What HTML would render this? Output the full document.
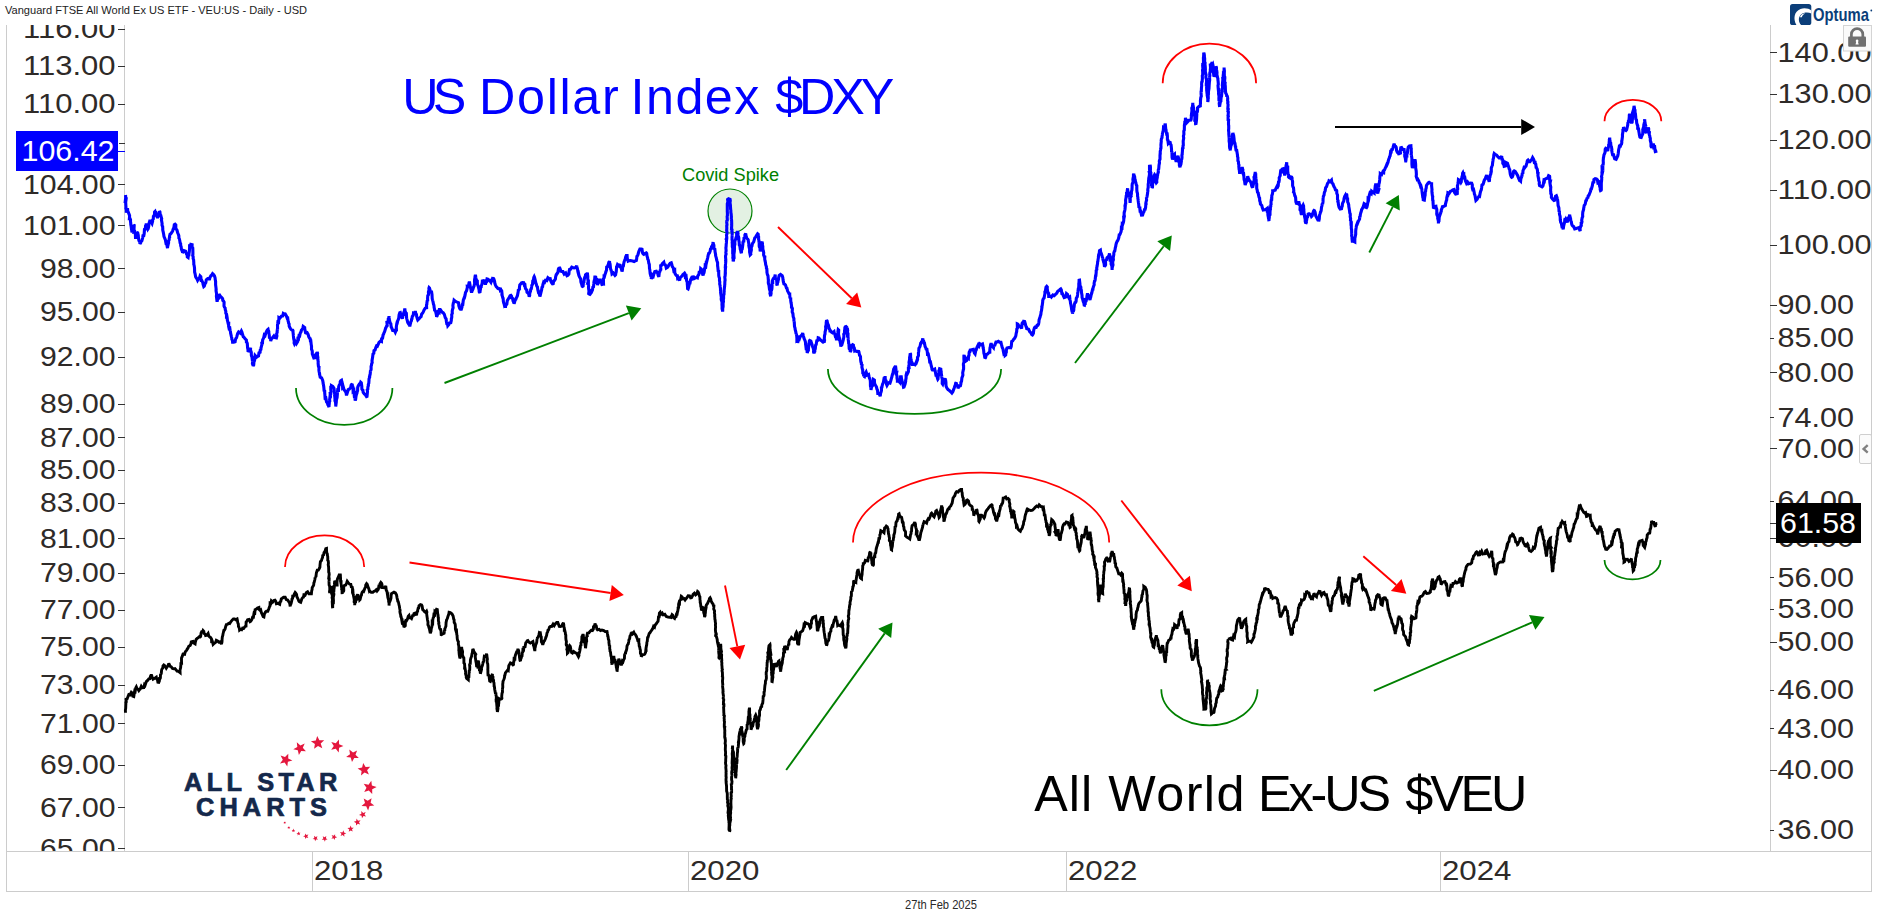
<!DOCTYPE html>
<html lang="en"><head><meta charset="utf-8"><title>US Dollar Index vs All World Ex-US</title>
<style>html,body{margin:0;padding:0;background:#fff}svg{display:block}text{font-family:"Liberation Sans",Arial,sans-serif}</style></head><body>
<svg width="1878" height="924" viewBox="0 0 1878 924">
<rect width="1878" height="924" fill="#fff"/>
<g stroke="#cccccc" stroke-width="1" fill="none" shape-rendering="crispEdges">
<path d="M6.5 25 V891.5 H1871.5 V25"/>
<path d="M6.5 851.5 H1871.5"/>
<path d="M124.5 25 V851"/>
<path d="M1770.5 25 V851"/>
<path d="M312.5 851.5 V891.5"/>
<path d="M688.5 851.5 V891.5"/>
<path d="M1066.5 851.5 V891.5"/>
<path d="M1440.5 851.5 V891.5"/>
</g>
<defs><clipPath id="cl"><rect x="7" y="25" width="1864" height="826"/></clipPath></defs>
<g clip-path="url(#cl)">
<g stroke="#333" stroke-width="1" shape-rendering="crispEdges">
<path d="M118 29.5 H125"/>
<path d="M118 66.5 H125"/>
<path d="M118 104.5 H125"/>
<path d="M118 184.5 H125"/>
<path d="M118 225.5 H125"/>
<path d="M118 268.5 H125"/>
<path d="M118 312.5 H125"/>
<path d="M118 357.5 H125"/>
<path d="M118 404.5 H125"/>
<path d="M118 437.5 H125"/>
<path d="M118 470.5 H125"/>
<path d="M118 503.5 H125"/>
<path d="M118 538.5 H125"/>
<path d="M118 573.5 H125"/>
<path d="M118 610.5 H125"/>
<path d="M118 647.5 H125"/>
<path d="M118 685.5 H125"/>
<path d="M118 723.5 H125"/>
<path d="M118 765.5 H125"/>
<path d="M118 807.5 H125"/>
<path d="M118 848.5 H125"/>
<path d="M119 143.5 H125"/>
</g>
<g fill="#2e2a28" font-size="28.0" text-anchor="end">
<text x="115.5" y="38.0" textLength="92.5" lengthAdjust="spacingAndGlyphs">116.00</text>
<text x="115.5" y="75.0" textLength="92.5" lengthAdjust="spacingAndGlyphs">113.00</text>
<text x="115.5" y="113.0" textLength="92.5" lengthAdjust="spacingAndGlyphs">110.00</text>
<text x="115.5" y="193.5" textLength="92.5" lengthAdjust="spacingAndGlyphs">104.00</text>
<text x="115.5" y="234.5" textLength="92.5" lengthAdjust="spacingAndGlyphs">101.00</text>
<text x="115.5" y="277.5" textLength="75.5" lengthAdjust="spacingAndGlyphs">98.00</text>
<text x="115.5" y="321.0" textLength="75.5" lengthAdjust="spacingAndGlyphs">95.00</text>
<text x="115.5" y="366.0" textLength="75.5" lengthAdjust="spacingAndGlyphs">92.00</text>
<text x="115.5" y="413.0" textLength="75.5" lengthAdjust="spacingAndGlyphs">89.00</text>
<text x="115.5" y="446.5" textLength="75.5" lengthAdjust="spacingAndGlyphs">87.00</text>
<text x="115.5" y="479.0" textLength="75.5" lengthAdjust="spacingAndGlyphs">85.00</text>
<text x="115.5" y="512.0" textLength="75.5" lengthAdjust="spacingAndGlyphs">83.00</text>
<text x="115.5" y="547.5" textLength="75.5" lengthAdjust="spacingAndGlyphs">81.00</text>
<text x="115.5" y="582.0" textLength="75.5" lengthAdjust="spacingAndGlyphs">79.00</text>
<text x="115.5" y="619.0" textLength="75.5" lengthAdjust="spacingAndGlyphs">77.00</text>
<text x="115.5" y="656.0" textLength="75.5" lengthAdjust="spacingAndGlyphs">75.00</text>
<text x="115.5" y="694.0" textLength="75.5" lengthAdjust="spacingAndGlyphs">73.00</text>
<text x="115.5" y="732.5" textLength="75.5" lengthAdjust="spacingAndGlyphs">71.00</text>
<text x="115.5" y="774.0" textLength="75.5" lengthAdjust="spacingAndGlyphs">69.00</text>
<text x="115.5" y="816.5" textLength="75.5" lengthAdjust="spacingAndGlyphs">67.00</text>
<text x="115.5" y="857.5" textLength="75.5" lengthAdjust="spacingAndGlyphs">65.00</text>
</g>
<g stroke="#333" stroke-width="1" shape-rendering="crispEdges">
<path d="M1770 52.5 H1777"/>
<path d="M1770 94.5 H1777"/>
<path d="M1770 140.5 H1777"/>
<path d="M1770 190.5 H1777"/>
<path d="M1770 245.5 H1777"/>
<path d="M1770 305.5 H1777"/>
<path d="M1770 338.5 H1774"/>
<path d="M1770 372.5 H1777"/>
<path d="M1770 417.5 H1774"/>
<path d="M1770 448.5 H1777"/>
<path d="M1770 501.5 H1774"/>
<path d="M1770 538.5 H1777"/>
<path d="M1770 577.5 H1774"/>
<path d="M1770 609.5 H1774"/>
<path d="M1770 642.5 H1777"/>
<path d="M1770 690.5 H1774"/>
<path d="M1770 728.5 H1774"/>
<path d="M1770 770.5 H1777"/>
<path d="M1770 830.5 H1774"/>
<path d="M1770 523.5 H1777"/>
</g>
<g fill="#2e2a28" font-size="28.0">
<text x="1777.5" y="61.5" textLength="94.0" lengthAdjust="spacingAndGlyphs">140.00</text>
<text x="1777.5" y="103.0" textLength="94.0" lengthAdjust="spacingAndGlyphs">130.00</text>
<text x="1777.5" y="149.0" textLength="94.0" lengthAdjust="spacingAndGlyphs">120.00</text>
<text x="1777.5" y="199.0" textLength="94.0" lengthAdjust="spacingAndGlyphs">110.00</text>
<text x="1777.5" y="254.0" textLength="94.0" lengthAdjust="spacingAndGlyphs">100.00</text>
<text x="1777.5" y="314.0" textLength="76.5" lengthAdjust="spacingAndGlyphs">90.00</text>
<text x="1777.5" y="347.0" textLength="76.5" lengthAdjust="spacingAndGlyphs">85.00</text>
<text x="1777.5" y="381.5" textLength="76.5" lengthAdjust="spacingAndGlyphs">80.00</text>
<text x="1777.5" y="426.5" textLength="76.5" lengthAdjust="spacingAndGlyphs">74.00</text>
<text x="1777.5" y="457.5" textLength="76.5" lengthAdjust="spacingAndGlyphs">70.00</text>
<text x="1777.5" y="510.0" textLength="76.5" lengthAdjust="spacingAndGlyphs">64.00</text>
<text x="1777.5" y="547.0" textLength="76.5" lengthAdjust="spacingAndGlyphs">60.00</text>
<text x="1777.5" y="586.5" textLength="76.5" lengthAdjust="spacingAndGlyphs">56.00</text>
<text x="1777.5" y="618.0" textLength="76.5" lengthAdjust="spacingAndGlyphs">53.00</text>
<text x="1777.5" y="651.0" textLength="76.5" lengthAdjust="spacingAndGlyphs">50.00</text>
<text x="1777.5" y="699.0" textLength="76.5" lengthAdjust="spacingAndGlyphs">46.00</text>
<text x="1777.5" y="737.5" textLength="76.5" lengthAdjust="spacingAndGlyphs">43.00</text>
<text x="1777.5" y="779.0" textLength="76.5" lengthAdjust="spacingAndGlyphs">40.00</text>
<text x="1777.5" y="839.0" textLength="76.5" lengthAdjust="spacingAndGlyphs">36.00</text>
</g>
</g>
<rect x="16" y="131" width="102" height="40" fill="#0000ff"/>
<path d="M118 151.5 H125" stroke="#0000ff" stroke-width="1" shape-rendering="crispEdges"/>
<text x="21.5" y="160.9" font-size="29.6" fill="#fff" textLength="93" lengthAdjust="spacingAndGlyphs">106.42</text>
<rect x="1776" y="503" width="85" height="40" fill="#000"/>
<text x="1780" y="533.2" font-size="29" fill="#fff" textLength="76" lengthAdjust="spacingAndGlyphs">61.58</text>
<text x="314.0" y="880.3" font-size="28.0" fill="#2e2a28" textLength="69.5" lengthAdjust="spacingAndGlyphs">2018</text>
<text x="690.0" y="880.3" font-size="28.0" fill="#2e2a28" textLength="69.5" lengthAdjust="spacingAndGlyphs">2020</text>
<text x="1068.0" y="880.3" font-size="28.0" fill="#2e2a28" textLength="69.5" lengthAdjust="spacingAndGlyphs">2022</text>
<text x="1442.0" y="880.3" font-size="28.0" fill="#2e2a28" textLength="69.5" lengthAdjust="spacingAndGlyphs">2024</text>
<text x="5" y="13.7" font-size="11.8" fill="#222" textLength="302" lengthAdjust="spacingAndGlyphs">Vanguard FTSE All World Ex US ETF - VEU:US - Daily - USD</text>
<text x="905" y="908.7" font-size="12.3" fill="#2a2a2a" textLength="72" lengthAdjust="spacingAndGlyphs">27th Feb 2025</text>
<path d="M296.0 388.0 A48.2 37.0 0 0 0 392.4 388.0" stroke="#008000" stroke-width="1.75" fill="none"/>
<path d="M827.9 369.0 A86.6 45.0 0 0 0 1001.1 369.0" stroke="#008000" stroke-width="1.75" fill="none"/>
<path d="M1161.3 689.3 A48.1 36.0 0 0 0 1257.5 689.3" stroke="#008000" stroke-width="1.75" fill="none"/>
<path d="M1604.5 560.0 A28.0 19.3 0 0 0 1660.5 560.0" stroke="#008000" stroke-width="1.75" fill="none"/>
<path d="M1162.7 83.3 A46.7 39.7 0 0 1 1256.1 83.3" stroke="#ff0000" stroke-width="1.75" fill="none"/>
<path d="M1604.5 121.3 A28.4 21.3 0 0 1 1661.3 121.3" stroke="#ff0000" stroke-width="1.75" fill="none"/>
<path d="M285.0 567.0 A39.6 31.5 0 0 1 364.2 567.0" stroke="#ff0000" stroke-width="1.75" fill="none"/>
<path d="M853.0 542.5 A128.1 69.8 0 0 1 1109.2 542.5" stroke="#ff0000" stroke-width="1.75" fill="none"/>
<circle cx="730" cy="211" r="22" fill="#008000" fill-opacity="0.11" stroke="#008000" stroke-width="1.2"/>
<path d="M444.5 383.0 L628.8 313.1" stroke="#008000" stroke-width="1.9"/><path d="M641.3 308.3 L631.6 320.5 L625.9 305.6 Z" fill="#008000"/>
<path d="M778.0 227.0 L851.7 298.2" stroke="#ff0000" stroke-width="1.9"/><path d="M861.3 307.5 L846.1 303.9 L857.2 292.4 Z" fill="#ff0000"/>
<path d="M1075.0 363.0 L1163.7 246.2" stroke="#008000" stroke-width="1.9"/><path d="M1171.8 235.5 L1170.1 251.0 L1157.3 241.3 Z" fill="#008000"/>
<path d="M1369.3 252.5 L1392.7 206.9" stroke="#008000" stroke-width="1.9"/><path d="M1398.8 195.0 L1399.8 210.6 L1385.6 203.3 Z" fill="#008000"/>
<path d="M1335.0 127.0 L1521.2 127.0" stroke="#000" stroke-width="1.9"/><path d="M1535.0 127.0 L1521.2 135.0 L1521.2 119.0 Z" fill="#000"/>
<path d="M409.5 562.5 L610.6 593.0" stroke="#ff0000" stroke-width="1.9"/><path d="M623.8 595.0 L609.4 600.9 L611.8 585.1 Z" fill="#ff0000"/>
<path d="M725.0 585.5 L737.3 646.4" stroke="#ff0000" stroke-width="1.9"/><path d="M740.0 659.5 L729.5 648.0 L745.2 644.8 Z" fill="#ff0000"/>
<path d="M786.2 770.0 L884.7 633.4" stroke="#008000" stroke-width="1.9"/><path d="M892.5 622.5 L891.2 638.0 L878.2 628.7 Z" fill="#008000"/>
<path d="M1121.3 500.5 L1183.6 580.7" stroke="#ff0000" stroke-width="1.9"/><path d="M1191.8 591.3 L1177.3 585.6 L1189.9 575.8 Z" fill="#ff0000"/>
<path d="M1363.3 556.3 L1396.2 585.0" stroke="#ff0000" stroke-width="1.9"/><path d="M1406.3 593.8 L1390.9 591.0 L1401.5 579.0 Z" fill="#ff0000"/>
<path d="M1373.8 690.8 L1532.2 622.3" stroke="#008000" stroke-width="1.9"/><path d="M1544.5 617.0 L1535.4 629.7 L1529.0 615.0 Z" fill="#008000"/>
<path d="M125.5 195.0 L125.6 195.8 L125.7 197.8 L125.4 200.2 L126.0 199.9 L125.7 202.3 L125.9 206.1 L126.0 207.2 L125.8 208.2 L126.3 209.8 L126.3 211.0 L126.3 212.7 L126.8 210.0 L127.0 210.3 L127.5 208.2 L127.8 211.3 L128.4 212.3 L128.8 213.7 L129.1 214.2 L129.6 215.8 L129.4 218.5 L130.0 218.4 L130.5 219.5 L130.5 221.7 L130.7 222.8 L130.8 224.6 L131.2 226.7 L131.5 229.2 L131.8 230.8 L131.9 232.5 L132.0 232.1 L132.6 232.1 L132.8 230.8 L132.9 228.7 L133.5 227.5 L133.8 224.8 L134.2 225.3 L134.0 229.6 L134.4 230.6 L134.5 230.3 L135.1 233.7 L135.1 233.1 L135.4 234.6 L135.5 237.4 L136.3 237.4 L136.8 235.1 L136.8 233.2 L137.5 232.7 L137.7 232.8 L138.3 235.5 L138.3 236.3 L138.8 240.1 L139.5 242.0 L139.6 241.8 L140.0 243.8 L140.7 242.8 L141.3 241.1 L141.9 240.8 L142.7 237.8 L143.0 235.7 L143.8 235.6 L144.2 233.5 L144.4 230.4 L144.6 230.5 L145.3 229.0 L145.6 225.7 L146.0 225.3 L146.3 223.6 L147.0 226.1 L147.2 225.7 L148.0 229.0 L148.2 228.7 L148.8 225.7 L148.9 223.9 L149.3 222.4 L149.6 221.8 L150.0 219.9 L150.4 222.1 L151.5 222.8 L152.0 223.6 L152.6 221.4 L152.6 219.9 L153.3 218.9 L153.4 216.3 L154.1 215.5 L154.5 214.2 L154.6 211.9 L155.0 211.5 L155.6 214.0 L156.1 213.6 L156.7 216.1 L157.5 217.9 L157.8 217.0 L158.7 213.7 L159.2 213.3 L159.5 211.1 L159.9 211.7 L160.3 215.3 L160.8 215.5 L161.3 217.4 L161.7 218.8 L161.4 219.6 L162.1 223.5 L162.0 225.1 L162.5 226.5 L162.6 225.9 L162.8 229.3 L162.7 229.8 L163.0 231.1 L163.2 231.9 L163.7 234.5 L164.0 236.6 L164.8 238.4 L165.4 239.9 L165.5 240.5 L165.7 241.8 L166.1 243.8 L166.8 244.0 L167.1 246.1 L167.5 248.1 L167.7 246.4 L168.3 243.8 L168.6 242.9 L168.5 241.0 L169.1 240.0 L169.4 237.4 L169.7 238.1 L169.5 236.3 L170.1 234.0 L171.0 233.6 L172.6 231.0 L173.1 229.3 L173.5 228.4 L173.8 228.1 L174.3 224.6 L175.1 224.1 L175.8 224.8 L175.8 228.7 L176.4 229.2 L177.0 230.2 L177.6 232.7 L178.1 233.6 L178.3 234.3 L178.8 235.6 L179.0 238.8 L179.2 238.4 L179.8 240.7 L180.1 242.9 L180.6 243.6 L180.7 245.8 L181.1 246.5 L181.4 248.9 L181.8 250.3 L182.2 250.4 L182.6 252.8 L184.0 250.7 L185.6 251.2 L186.5 254.0 L187.1 254.1 L187.3 256.9 L188.1 257.5 L188.5 254.8 L188.9 254.8 L189.0 253.6 L189.3 251.8 L189.6 248.3 L189.6 246.4 L190.1 246.6 L190.8 244.3 L192.1 244.6 L192.0 247.8 L192.6 246.8 L192.8 248.7 L192.9 252.0 L192.9 254.4 L192.7 255.5 L193.2 257.0 L193.1 258.5 L193.8 260.1 L193.6 259.7 L193.8 262.7 L193.8 265.2 L194.0 264.8 L194.5 267.8 L194.5 268.7 L194.6 270.3 L194.6 272.0 L195.1 273.8 L195.6 276.8 L196.1 277.7 L197.1 279.1 L197.6 280.3 L198.4 278.9 L199.5 278.0 L200.1 275.9 L200.8 276.6 L201.2 280.5 L201.8 280.5 L202.1 281.1 L202.8 282.6 L203.1 284.4 L203.8 286.6 L204.3 286.2 L205.0 283.8 L205.8 282.7 L206.3 279.8 L207.7 278.6 L209.6 278.8 L210.1 277.1 L211.0 275.6 L211.6 275.4 L212.6 273.7 L213.5 274.5 L214.5 276.0 L215.1 278.0 L215.2 279.4 L215.6 281.4 L215.6 282.1 L215.6 285.3 L215.6 284.7 L216.0 287.8 L216.2 290.1 L216.0 289.5 L216.1 291.1 L216.6 294.1 L216.4 296.2 L216.6 297.7 L217.0 298.0 L216.7 298.5 L217.1 301.8 L217.6 299.2 L218.5 298.5 L218.9 295.2 L219.6 295.0 L220.4 296.3 L221.9 297.9 L222.6 298.7 L222.8 300.5 L223.5 301.1 L224.1 302.1 L224.0 305.9 L224.6 307.5 L225.1 308.0 L225.3 309.9 L225.8 311.2 L225.8 313.1 L226.5 314.5 L226.5 315.8 L226.8 315.6 L227.2 317.9 L227.4 320.4 L227.6 321.0 L228.1 323.3 L228.7 323.3 L228.6 326.2 L229.1 328.5 L229.8 328.2 L230.1 330.3 L230.5 331.9 L230.6 333.2 L230.8 333.9 L231.5 337.1 L231.8 338.1 L231.8 339.1 L232.5 340.7 L232.6 342.1 L233.7 342.1 L235.1 341.7 L235.5 339.5 L236.1 338.1 L236.5 337.7 L236.9 336.4 L237.6 333.6 L238.6 331.9 L240.3 333.1 L241.4 331.0 L241.9 332.0 L242.8 335.3 L243.3 336.8 L243.9 337.2 L244.9 338.6 L246.4 340.2 L246.4 342.0 L247.0 342.6 L247.3 343.6 L247.6 347.8 L247.7 347.9 L248.0 350.1 L248.1 352.0 L248.8 350.7 L249.8 350.0 L250.6 347.8 L250.5 349.9 L251.1 351.6 L251.3 352.3 L251.3 353.8 L251.4 355.6 L252.0 357.1 L252.1 358.4 L252.5 361.6 L252.7 360.7 L252.4 363.7 L252.8 364.5 L253.1 365.9 L253.7 364.9 L253.9 362.7 L253.8 362.2 L254.3 361.1 L254.7 359.7 L254.8 357.5 L255.1 355.5 L256.6 357.1 L257.6 356.4 L258.5 355.9 L259.0 352.8 L260.1 352.2 L260.2 350.2 L260.9 349.5 L261.0 348.1 L261.3 346.9 L261.9 344.7 L261.8 343.0 L262.5 342.9 L262.6 340.0 L263.3 338.5 L263.7 337.9 L264.3 334.9 L265.1 335.5 L265.9 332.7 L266.5 331.5 L267.3 330.0 L268.1 329.3 L268.2 329.7 L268.8 331.6 L268.8 332.7 L269.3 335.4 L269.4 337.6 L270.0 338.2 L270.6 338.5 L270.7 341.1 L271.4 338.9 L272.4 337.9 L272.9 337.2 L273.9 335.9 L275.0 337.7 L276.4 338.0 L276.9 336.0 L276.6 333.9 L277.2 332.2 L277.1 331.7 L277.5 328.5 L277.6 329.6 L277.5 325.1 L277.7 323.8 L277.9 322.1 L278.6 322.3 L278.8 319.4 L278.9 318.6 L278.9 317.6 L279.9 318.1 L281.4 316.2 L282.7 315.9 L283.3 313.5 L284.4 314.3 L285.3 314.0 L286.4 315.9 L287.2 318.2 L287.7 318.1 L288.1 321.2 L288.5 322.1 L288.5 322.9 L289.1 324.0 L289.2 326.2 L289.7 327.3 L290.7 329.1 L291.6 329.9 L292.7 330.1 L293.0 330.6 L293.0 331.8 L293.4 335.5 L293.3 335.1 L293.7 338.8 L294.1 340.5 L294.3 340.7 L294.1 343.1 L294.4 343.8 L295.4 341.8 L296.4 343.6 L297.7 341.5 L297.9 338.7 L298.5 338.9 L299.0 335.6 L299.7 335.8 L300.2 333.3 L301.1 331.6 L301.4 330.1 L302.2 329.2 L302.8 328.2 L303.2 326.4 L303.6 326.7 L304.7 327.6 L304.8 329.0 L305.6 332.8 L306.4 333.1 L307.2 332.7 L308.1 334.3 L308.8 336.8 L309.7 338.4 L310.2 338.7 L310.4 340.7 L310.8 340.7 L311.1 343.6 L311.1 343.9 L311.5 346.2 L311.5 346.5 L311.5 349.2 L312.2 350.9 L312.3 352.0 L312.3 354.0 L312.7 355.0 L313.8 357.9 L315.2 357.6 L315.5 354.9 L316.5 353.5 L316.9 353.7 L317.2 352.0 L317.6 353.3 L317.4 354.7 L317.9 357.5 L317.8 359.0 L317.9 360.1 L318.3 362.3 L318.5 361.7 L318.1 363.0 L318.4 366.2 L318.7 367.1 L319.0 367.2 L318.9 369.9 L319.1 371.5 L319.6 373.9 L319.5 374.1 L319.9 375.6 L320.2 377.2 L321.6 377.9 L322.7 380.4 L323.2 383.2 L323.1 384.5 L323.3 383.9 L323.7 386.3 L323.9 388.1 L324.1 390.6 L324.7 391.0 L324.7 393.1 L324.8 393.6 L325.0 396.6 L325.6 396.0 L325.7 398.7 L326.0 398.7 L326.5 401.8 L327.4 402.9 L328.0 405.5 L328.1 404.8 L329.0 407.1 L329.0 406.0 L329.3 403.4 L329.3 402.0 L329.8 401.0 L329.6 400.0 L329.9 397.4 L330.2 397.6 L330.5 397.0 L330.2 393.5 L330.8 393.5 L331.0 391.2 L330.8 389.9 L330.8 387.2 L331.5 387.1 L331.5 385.7 L332.8 386.4 L334.0 388.2 L334.2 390.2 L334.3 390.6 L334.2 391.4 L334.8 394.5 L334.6 395.7 L334.8 396.6 L335.0 399.6 L334.9 401.6 L335.3 401.2 L335.6 403.1 L335.8 405.9 L335.7 406.6 L335.9 403.6 L336.1 403.7 L336.4 401.4 L336.2 401.8 L336.5 399.6 L337.0 397.6 L337.1 397.5 L337.4 393.7 L337.3 392.2 L337.4 392.7 L337.7 389.9 L338.5 390.1 L338.7 386.8 L339.1 385.3 L340.2 383.7 L340.2 381.8 L340.7 380.7 L341.5 380.2 L342.0 382.4 L342.4 383.5 L342.4 383.0 L342.6 387.3 L343.2 386.7 L343.6 388.1 L344.0 389.7 L344.9 390.7 L345.5 391.6 L346.1 393.0 L346.5 395.4 L346.9 394.1 L347.9 390.8 L348.2 389.6 L349.0 389.3 L349.5 388.8 L350.6 387.8 L351.2 384.9 L352.2 383.8 L352.4 386.9 L352.6 385.8 L353.0 387.3 L353.1 391.1 L353.9 390.4 L354.2 394.3 L354.1 393.5 L354.4 397.1 L354.6 397.9 L354.9 397.3 L355.2 400.5 L355.6 399.5 L355.9 397.0 L356.2 395.4 L356.3 395.0 L357.1 392.7 L356.9 391.9 L357.6 390.7 L357.7 387.3 L358.3 385.8 L359.5 383.9 L360.2 383.7 L360.7 382.2 L361.3 382.7 L361.8 386.4 L361.8 387.5 L361.9 389.2 L362.5 390.0 L362.9 390.2 L363.2 392.5 L364.3 394.0 L365.3 394.7 L366.5 396.6 L367.0 396.4 L367.2 394.6 L367.5 391.4 L367.2 389.9 L367.8 389.1 L367.9 387.1 L368.4 385.5 L368.3 384.5 L368.8 383.3 L368.8 383.1 L369.0 380.1 L369.0 379.1 L369.7 377.0 L369.5 376.5 L369.9 375.3 L370.2 374.1 L370.5 370.3 L370.7 370.8 L371.1 369.3 L371.1 366.3 L371.5 365.2 L371.7 363.4 L372.2 362.6 L372.0 360.9 L372.4 358.3 L372.5 358.0 L372.9 354.9 L373.0 354.0 L373.8 353.3 L373.9 351.8 L374.0 350.6 L375.1 349.9 L375.8 347.5 L376.5 346.0 L377.3 346.3 L378.4 343.8 L379.0 342.4 L380.5 341.1 L381.5 341.5 L381.6 338.7 L382.1 338.0 L382.6 338.0 L383.1 334.9 L383.6 334.1 L384.0 332.8 L384.6 331.6 L385.6 328.3 L385.6 328.5 L386.5 326.3 L387.2 325.7 L386.9 322.2 L387.5 322.0 L388.1 321.9 L388.3 318.7 L388.9 318.1 L389.0 316.0 L389.1 317.7 L389.4 320.0 L390.1 322.5 L390.2 323.0 L390.8 323.6 L391.2 327.1 L391.5 327.4 L392.6 330.3 L393.2 330.2 L394.6 330.8 L395.3 332.2 L395.7 331.2 L396.1 329.1 L396.4 329.2 L396.3 327.1 L396.8 323.5 L397.0 322.7 L397.3 322.8 L397.8 320.5 L398.1 320.0 L398.7 318.4 L399.1 314.8 L399.8 312.7 L400.3 312.5 L401.0 315.3 L401.2 314.4 L401.6 317.0 L402.3 318.6 L402.8 316.7 L402.8 315.5 L403.3 313.8 L403.6 313.4 L403.9 312.3 L404.5 310.8 L404.8 308.5 L405.1 311.2 L405.6 312.2 L405.8 314.1 L406.4 314.0 L406.6 318.0 L406.8 318.8 L407.3 320.6 L407.7 322.3 L408.8 324.2 L409.5 324.4 L409.8 326.4 L410.3 324.0 L410.6 323.1 L410.6 322.4 L411.4 320.8 L411.6 319.2 L411.9 318.9 L412.3 316.4 L413.2 315.4 L413.5 313.0 L414.6 313.4 L415.3 311.1 L415.9 314.0 L416.4 314.4 L416.7 316.8 L416.7 316.6 L417.5 319.2 L417.8 320.0 L419.1 318.8 L420.3 317.3 L421.1 316.7 L421.6 314.3 L422.4 313.3 L423.1 312.3 L424.1 310.0 L425.3 308.0 L426.6 307.7 L426.5 304.9 L426.8 304.5 L426.9 303.0 L427.3 300.3 L427.7 301.2 L427.6 298.4 L427.8 295.5 L428.4 294.8 L428.6 292.6 L428.4 292.2 L429.0 290.0 L428.9 288.2 L429.1 287.6 L429.5 288.0 L430.5 291.6 L431.2 292.1 L431.6 292.1 L432.0 294.7 L432.0 294.8 L432.2 298.5 L432.4 299.4 L432.7 300.6 L433.0 301.6 L433.5 304.2 L433.7 304.6 L434.0 305.9 L434.1 307.3 L434.5 309.2 L434.6 310.2 L435.4 311.0 L435.9 312.6 L436.4 314.9 L436.6 316.8 L437.2 315.6 L438.1 312.0 L439.1 312.6 L439.4 309.5 L440.3 309.5 L441.2 310.8 L442.0 312.1 L443.2 312.8 L444.1 314.0 L444.3 314.4 L445.2 317.4 L445.2 317.5 L446.1 318.9 L446.4 321.4 L447.0 324.8 L447.5 324.1 L447.8 325.8 L448.9 324.5 L449.5 322.9 L450.8 322.7 L451.3 320.6 L451.4 318.4 L451.7 317.8 L451.8 316.5 L451.7 314.6 L452.3 313.5 L452.2 311.7 L452.3 310.4 L452.8 308.6 L453.1 307.8 L452.9 305.5 L453.3 303.2 L453.7 302.2 L454.0 300.9 L454.1 300.2 L455.5 301.4 L456.5 301.9 L457.8 302.4 L458.6 302.8 L458.8 305.6 L459.7 308.4 L460.2 309.0 L460.8 309.7 L461.0 310.2 L462.0 306.9 L462.1 304.8 L462.3 304.4 L462.8 304.4 L463.3 300.2 L463.8 298.8 L464.1 299.3 L464.2 298.6 L464.8 296.5 L465.2 294.4 L465.5 292.4 L465.9 291.9 L466.6 290.7 L467.4 287.2 L467.3 286.2 L468.1 286.3 L468.6 284.9 L469.1 282.8 L469.6 282.8 L470.1 285.5 L469.9 285.4 L470.8 288.9 L471.0 289.5 L471.2 291.4 L471.6 292.6 L471.9 291.4 L473.0 288.9 L473.5 287.2 L474.1 286.1 L474.4 284.3 L474.7 283.9 L474.5 281.5 L474.6 279.4 L475.0 277.5 L475.0 277.0 L475.4 274.7 L475.5 275.3 L475.9 278.0 L476.5 280.5 L476.7 280.3 L477.3 280.9 L477.4 284.4 L477.9 285.4 L478.1 285.9 L478.5 287.3 L479.1 289.9 L479.2 291.8 L479.9 292.9 L480.1 291.0 L480.4 289.5 L480.7 287.0 L481.2 286.8 L481.2 286.0 L481.9 284.4 L482.3 282.3 L482.4 279.7 L483.6 282.2 L484.4 281.5 L485.4 284.4 L486.2 282.0 L486.6 282.6 L487.1 279.0 L487.9 279.2 L488.8 279.9 L490.1 281.2 L490.9 282.3 L491.6 279.9 L491.8 279.6 L492.2 280.3 L492.9 277.1 L493.2 280.3 L494.1 279.8 L494.6 281.3 L494.8 283.1 L495.4 284.8 L496.2 286.5 L497.0 287.3 L497.9 288.6 L499.4 289.2 L500.4 287.9 L500.5 290.0 L500.9 289.7 L501.7 290.9 L502.1 294.5 L501.9 294.9 L502.3 296.0 L502.9 298.1 L503.1 298.3 L503.4 301.8 L503.8 303.2 L504.1 303.8 L504.6 306.0 L505.1 305.7 L505.4 307.7 L505.7 305.4 L506.1 304.9 L506.8 304.2 L507.3 300.6 L507.9 299.7 L508.7 298.3 L509.3 297.3 L510.1 295.7 L510.9 295.4 L511.6 296.4 L511.7 298.0 L512.7 298.5 L513.0 300.9 L513.8 302.5 L514.1 303.7 L514.6 302.0 L515.3 299.5 L515.8 299.4 L516.3 297.9 L516.7 297.2 L517.4 295.7 L518.0 292.6 L518.3 291.3 L518.3 290.2 L519.1 289.6 L519.5 289.1 L519.4 288.1 L519.8 284.9 L520.4 284.2 L521.5 282.9 L522.7 283.1 L523.4 281.6 L524.0 283.9 L524.7 283.0 L524.8 284.5 L525.4 288.2 L525.8 289.1 L526.7 289.8 L527.0 292.3 L528.2 293.3 L528.7 293.9 L529.2 296.7 L529.7 295.3 L529.6 294.1 L530.3 291.2 L530.4 292.1 L530.7 289.5 L531.3 288.8 L531.7 286.4 L531.8 285.4 L532.6 284.2 L532.6 283.1 L532.9 279.8 L533.4 280.4 L533.8 277.4 L534.2 276.6 L534.5 277.3 L535.2 280.1 L535.2 280.1 L536.0 283.5 L536.2 283.9 L536.7 285.7 L536.9 286.3 L537.4 286.7 L537.8 289.6 L538.4 292.1 L538.8 292.0 L539.2 293.9 L539.5 294.9 L539.9 296.4 L540.1 296.0 L540.5 294.4 L540.8 293.2 L541.4 290.7 L541.6 290.0 L542.0 287.2 L542.6 286.7 L542.9 284.5 L543.4 282.9 L544.1 284.0 L544.7 281.5 L545.4 280.3 L546.8 280.6 L547.9 277.8 L549.2 278.8 L550.2 278.7 L550.7 280.8 L551.7 283.0 L552.4 283.8 L553.2 283.7 L553.7 280.9 L554.6 280.3 L555.4 278.9 L555.6 277.0 L556.2 274.6 L557.1 273.4 L557.2 273.5 L557.9 272.4 L558.4 269.1 L559.0 268.2 L559.2 267.2 L559.9 268.2 L561.0 271.2 L561.7 271.4 L562.9 271.5 L564.2 274.1 L565.7 272.9 L567.0 275.7 L567.9 275.3 L568.9 273.9 L569.1 271.3 L569.6 269.3 L570.5 269.2 L571.8 267.2 L573.2 267.7 L574.2 267.9 L575.7 267.5 L576.7 265.8 L577.0 267.1 L577.5 269.0 L577.9 271.8 L578.3 273.3 L578.5 273.1 L579.0 275.7 L579.2 276.2 L579.7 277.3 L580.4 278.4 L580.7 279.1 L580.9 282.0 L581.5 283.7 L582.2 286.3 L582.5 286.5 L583.1 286.1 L583.4 282.5 L583.9 283.1 L583.9 281.5 L584.4 278.4 L584.9 277.0 L585.3 276.7 L585.5 274.9 L586.7 273.9 L587.5 274.0 L587.6 275.0 L587.8 276.7 L587.7 278.5 L588.2 281.4 L588.0 282.2 L588.4 282.0 L588.4 285.4 L588.6 285.1 L588.5 287.6 L588.7 289.3 L589.0 291.0 L588.7 293.5 L589.4 293.8 L589.2 295.3 L590.3 294.1 L591.0 291.2 L591.7 291.7 L592.5 289.9 L592.6 288.9 L592.9 287.1 L593.5 286.8 L593.8 283.9 L593.9 282.1 L594.4 279.9 L594.6 280.2 L594.9 276.6 L595.0 275.8 L595.4 278.0 L595.8 277.9 L596.3 281.9 L596.9 281.6 L597.3 283.2 L597.5 285.0 L598.4 282.3 L598.6 280.7 L599.2 281.2 L600.0 278.9 L600.7 281.5 L601.4 281.5 L601.9 284.5 L602.5 285.3 L602.8 283.0 L603.5 283.4 L603.4 278.8 L604.1 277.8 L604.1 276.2 L604.5 276.3 L605.0 274.4 L605.8 272.2 L605.8 271.8 L606.5 270.2 L606.7 267.0 L607.5 266.6 L607.9 265.3 L608.3 264.8 L608.8 262.4 L609.5 261.2 L609.8 264.0 L610.0 263.4 L610.3 266.5 L610.5 268.7 L611.2 270.3 L611.3 271.7 L611.5 271.0 L612.0 274.0 L613.3 273.0 L615.0 275.4 L615.6 274.8 L615.8 273.2 L616.2 271.9 L616.4 269.5 L616.6 266.5 L617.1 265.8 L617.5 264.6 L618.8 265.9 L620.0 264.1 L620.3 266.5 L621.1 268.0 L621.0 267.6 L621.9 270.7 L622.0 271.7 L622.5 269.5 L622.6 267.0 L623.3 266.3 L623.7 263.7 L624.1 261.9 L624.4 260.9 L624.5 260.5 L625.1 259.8 L625.6 257.3 L626.3 255.5 L627.1 255.5 L627.3 258.5 L628.1 261.1 L628.8 260.8 L630.4 260.6 L632.5 261.1 L634.1 261.5 L635.3 260.9 L636.3 260.5 L636.6 259.3 L636.9 256.4 L637.4 255.8 L637.9 255.0 L638.4 253.0 L638.8 251.5 L639.9 249.0 L641.3 249.0 L642.0 249.2 L642.5 252.7 L643.2 254.0 L643.8 254.4 L645.2 253.3 L646.3 252.8 L646.7 253.3 L647.0 256.0 L647.6 257.9 L647.9 259.9 L648.2 259.5 L648.7 262.6 L648.8 263.2 L649.3 264.4 L649.4 266.5 L649.5 268.6 L649.8 269.7 L650.1 272.8 L650.2 273.7 L650.6 275.0 L651.0 276.6 L651.3 276.1 L651.3 279.0 L651.9 276.9 L652.4 275.1 L653.3 276.1 L653.8 274.3 L654.8 271.6 L656.3 271.2 L657.1 272.6 L657.7 273.2 L658.1 275.3 L658.8 276.7 L659.2 273.5 L659.3 272.2 L659.9 271.5 L660.2 270.2 L660.8 269.6 L660.7 265.7 L661.3 265.6 L662.3 263.6 L663.8 262.2 L664.3 264.4 L665.2 264.7 L665.8 265.9 L666.3 268.1 L667.7 267.2 L668.8 265.2 L670.2 263.3 L671.3 262.8 L671.8 264.3 L672.2 266.3 L673.1 267.7 L673.2 267.2 L673.8 270.7 L674.7 270.1 L674.8 272.8 L675.4 274.2 L676.3 275.5 L677.4 275.8 L677.7 278.8 L678.6 278.6 L679.6 280.4 L680.2 277.6 L681.5 276.4 L682.1 276.0 L682.9 274.6 L683.7 274.0 L684.6 273.1 L685.0 273.7 L685.3 276.8 L686.1 276.3 L686.3 278.6 L686.8 281.5 L686.7 281.3 L687.3 281.9 L687.3 284.4 L687.4 285.0 L687.6 288.6 L688.1 288.9 L688.5 287.8 L688.9 285.9 L689.5 283.6 L689.8 284.2 L690.4 280.8 L690.6 279.7 L691.5 277.9 L692.3 278.6 L693.1 275.9 L694.5 278.4 L696.4 277.4 L697.4 277.8 L697.8 275.9 L698.9 274.3 L699.2 272.3 L700.4 272.2 L700.7 268.7 L701.4 269.3 L701.7 269.9 L702.2 272.8 L702.9 275.0 L703.1 275.5 L703.3 274.2 L704.0 272.7 L704.4 270.5 L704.5 268.5 L705.1 268.1 L705.2 265.8 L705.8 266.2 L706.1 263.8 L706.4 260.8 L706.8 261.4 L707.1 260.2 L707.6 258.1 L708.2 255.1 L708.7 253.3 L709.4 253.0 L710.1 251.4 L710.5 249.0 L711.4 247.9 L711.6 245.7 L712.2 246.5 L712.9 243.3 L713.1 242.1 L713.1 242.9 L713.9 245.2 L713.9 246.2 L714.0 249.2 L714.7 248.3 L714.9 249.9 L715.1 252.1 L715.6 254.4 L715.6 255.6 L716.2 257.6 L716.2 257.5 L716.7 260.0 L717.1 261.3 L717.6 262.8 L717.6 264.9 L717.6 265.8 L717.8 267.0 L718.2 270.9 L718.7 271.1 L718.7 274.2 L718.7 273.5 L718.8 275.9 L719.0 276.9 L719.5 278.2 L719.5 280.8 L719.8 281.9 L719.7 284.1 L720.1 285.5 L720.2 286.5 L720.6 289.6 L720.3 289.3 L720.7 291.1 L720.6 292.5 L720.9 294.6 L721.2 296.7 L721.5 296.8 L721.2 298.9 L721.3 299.9 L722.0 301.9 L722.0 305.0 L721.9 304.2 L722.1 305.9 L722.1 308.7 L722.4 309.8 L722.6 311.6 L722.7 310.8 L722.7 308.6 L723.1 306.6 L723.1 303.9 L723.0 303.7 L723.5 301.4 L723.3 300.1 L723.6 298.4 L723.6 297.2 L723.6 295.4 L724.0 294.4 L724.1 291.6 L724.5 290.7 L724.1 291.1 L724.3 288.8 L724.7 285.5 L724.6 285.6 L724.8 284.4 L724.8 283.5 L724.9 281.1 L725.1 280.1 L724.8 276.9 L725.1 276.1 L725.3 274.0 L725.2 274.0 L725.3 271.5 L725.4 269.0 L725.6 267.3 L725.3 267.2 L725.5 264.4 L725.6 263.7 L725.8 261.1 L725.6 260.6 L725.8 260.0 L725.6 257.6 L725.5 256.1 L726.1 254.0 L725.7 252.1 L725.9 252.7 L726.1 250.2 L726.0 249.3 L725.9 247.9 L726.1 246.6 L726.2 244.5 L726.4 242.9 L726.5 240.7 L726.7 239.0 L726.3 238.8 L726.8 237.3 L726.4 234.2 L726.9 234.7 L726.9 230.8 L726.6 231.7 L726.7 229.7 L726.8 228.2 L726.7 225.8 L727.0 224.8 L726.7 222.2 L726.9 220.1 L727.2 221.3 L727.3 219.4 L727.1 215.6 L727.4 216.6 L727.4 215.2 L727.4 212.8 L727.3 211.9 L727.3 207.7 L727.3 206.2 L727.3 206.4 L727.3 203.8 L727.6 202.6 L727.9 201.8 L727.6 199.5 L728.6 198.7 L730.1 199.3 L730.3 200.7 L730.0 202.7 L730.3 204.5 L730.4 205.2 L730.5 207.1 L730.5 207.2 L730.7 210.1 L730.8 209.9 L730.9 212.6 L731.2 214.2 L731.3 215.9 L731.4 216.4 L731.3 219.8 L731.4 219.5 L731.6 220.3 L731.7 224.2 L731.6 224.7 L731.7 225.0 L731.5 229.2 L732.0 229.5 L731.8 231.2 L732.1 231.5 L732.2 235.1 L732.2 235.0 L732.0 237.8 L732.1 239.2 L731.9 239.0 L732.5 242.1 L732.1 241.6 L732.3 244.0 L732.3 246.7 L732.6 247.8 L732.8 248.6 L732.7 250.4 L732.7 252.7 L733.1 252.7 L732.9 256.0 L733.0 256.7 L732.8 257.7 L733.3 259.9 L733.1 260.8 L733.2 261.3 L733.6 259.8 L733.4 256.1 L734.0 256.4 L733.9 254.6 L734.2 252.3 L734.3 251.7 L734.5 248.5 L734.5 249.0 L734.4 244.7 L734.7 245.1 L734.9 244.4 L734.8 242.2 L735.1 240.1 L735.8 239.2 L735.8 238.3 L736.7 235.7 L736.6 233.0 L737.4 231.8 L737.6 231.1 L738.1 233.5 L737.8 235.3 L738.5 236.5 L738.8 238.0 L738.8 239.9 L739.0 241.6 L739.1 240.8 L739.3 244.8 L739.6 245.0 L740.1 247.6 L740.2 248.9 L740.3 249.5 L740.6 250.0 L741.1 252.5 L741.4 253.3 L741.4 252.7 L741.6 250.4 L741.8 249.1 L742.2 248.9 L742.5 247.0 L742.9 243.9 L742.9 242.2 L743.2 241.5 L743.8 241.3 L744.1 237.0 L744.9 238.2 L744.9 234.9 L745.7 233.5 L746.1 236.1 L746.8 238.1 L747.6 239.1 L748.2 239.8 L748.4 241.6 L748.6 242.4 L749.0 244.9 L748.8 245.4 L749.2 247.6 L749.6 249.0 L749.6 249.7 L749.6 252.0 L749.9 253.4 L750.2 254.9 L750.8 254.3 L750.6 253.4 L751.4 250.0 L751.2 247.6 L752.0 245.9 L752.0 245.7 L752.6 242.9 L752.7 243.2 L753.7 241.9 L754.1 240.3 L754.8 237.8 L755.7 237.1 L756.2 235.9 L757.6 233.7 L758.2 234.2 L758.3 236.3 L758.6 236.8 L758.6 239.4 L758.9 240.2 L759.0 242.8 L759.2 241.9 L759.2 246.1 L759.4 246.9 L759.9 247.4 L760.0 248.5 L760.2 251.4 L760.6 249.6 L760.6 249.5 L761.2 247.8 L761.4 245.9 L761.7 244.4 L761.7 243.3 L762.2 241.5 L762.3 243.5 L762.5 245.6 L762.8 246.1 L762.8 247.7 L762.9 249.5 L763.3 250.6 L763.7 252.6 L763.6 255.0 L763.9 255.6 L764.2 256.6 L764.8 256.8 L764.7 259.0 L765.0 260.7 L765.4 262.3 L765.7 264.6 L766.4 266.8 L766.4 268.1 L766.8 268.8 L767.0 271.5 L766.9 272.1 L767.4 274.7 L767.7 275.1 L768.0 275.8 L768.3 279.9 L768.4 279.2 L768.3 282.8 L768.5 283.8 L768.9 284.8 L769.0 285.3 L769.5 289.4 L770.0 290.8 L770.1 290.5 L770.3 294.3 L770.2 294.3 L770.7 296.3 L770.7 294.5 L771.1 293.9 L771.0 291.2 L771.5 290.4 L771.7 289.5 L771.9 288.7 L772.1 285.8 L772.0 285.0 L772.2 282.1 L772.7 282.2 L772.7 279.9 L773.1 279.0 L773.9 277.9 L774.8 277.1 L775.2 274.6 L775.3 277.9 L776.0 279.3 L775.9 278.6 L776.6 279.8 L776.9 283.0 L776.8 284.6 L777.2 285.4 L777.4 283.2 L777.9 282.0 L778.1 280.3 L778.5 279.6 L778.6 277.9 L778.9 276.7 L779.2 275.4 L780.5 274.5 L782.2 275.8 L782.8 277.6 L783.0 279.6 L783.4 282.2 L783.4 281.7 L783.9 283.9 L784.8 284.3 L785.5 285.1 L786.4 287.9 L786.9 288.1 L787.6 290.9 L788.5 292.6 L789.1 293.8 L789.7 293.9 L789.7 294.7 L790.0 298.4 L790.7 297.4 L790.7 300.4 L791.1 303.2 L791.1 302.8 L791.5 305.3 L791.5 307.3 L792.0 307.6 L792.4 308.6 L792.2 312.0 L792.8 313.4 L792.9 313.5 L793.2 316.7 L793.6 317.8 L793.9 318.6 L793.9 321.5 L794.0 321.0 L794.3 322.5 L794.4 324.6 L794.5 326.5 L795.0 328.0 L795.2 329.7 L795.8 331.9 L796.1 333.9 L796.2 333.7 L796.7 335.6 L796.9 338.0 L796.9 340.4 L797.6 339.9 L797.7 343.0 L798.0 340.9 L799.1 338.1 L799.5 338.6 L800.2 336.6 L800.7 336.1 L802.2 334.6 L802.7 333.1 L803.1 335.3 L803.3 336.0 L804.0 338.0 L804.0 338.4 L804.7 339.8 L805.3 341.4 L805.6 343.2 L805.5 343.9 L805.8 345.6 L806.2 348.9 L806.7 349.0 L807.1 350.9 L807.2 352.9 L807.5 352.1 L807.8 349.2 L808.4 349.4 L808.5 346.6 L809.0 343.6 L809.0 343.6 L809.4 340.7 L809.7 340.4 L810.2 340.7 L811.0 342.7 L811.3 342.4 L812.2 345.0 L812.4 347.3 L812.7 346.6 L813.3 348.6 L813.7 350.2 L813.5 351.8 L814.0 353.3 L814.3 352.3 L814.8 351.5 L814.8 349.2 L815.3 348.8 L815.6 345.1 L816.2 344.5 L816.5 342.4 L816.8 340.7 L817.9 340.4 L818.2 337.8 L819.0 338.0 L820.0 339.5 L821.5 340.7 L822.9 342.1 L824.0 342.4 L824.1 342.6 L824.6 340.1 L824.3 339.2 L824.5 335.5 L825.0 334.0 L825.0 333.8 L825.1 331.8 L825.5 330.5 L825.7 328.9 L825.9 328.7 L825.6 326.9 L826.2 324.4 L826.2 322.7 L826.5 320.8 L826.5 319.9 L827.2 321.2 L827.2 321.9 L828.0 324.4 L828.4 325.0 L829.0 328.0 L829.9 330.0 L830.0 331.0 L830.8 331.0 L831.5 332.1 L832.6 332.9 L834.0 331.7 L834.3 333.4 L834.8 333.8 L835.0 334.9 L835.5 337.0 L836.3 338.0 L836.5 340.5 L836.5 338.5 L836.9 338.1 L837.4 334.7 L837.4 335.7 L838.0 333.1 L837.9 331.6 L838.2 329.7 L838.7 330.2 L838.5 334.0 L838.7 335.0 L839.1 336.8 L839.4 338.1 L839.7 337.8 L839.6 341.0 L839.9 340.6 L840.6 344.1 L840.7 344.8 L840.8 346.7 L841.3 344.2 L842.0 344.3 L842.8 341.7 L843.3 339.7 L843.5 338.5 L843.8 337.3 L843.9 334.9 L843.9 333.9 L844.6 333.4 L844.5 331.2 L844.8 329.1 L844.9 327.5 L845.3 326.9 L846.1 326.6 L847.3 327.8 L847.3 327.7 L847.7 330.8 L847.4 331.5 L847.5 335.0 L848.0 334.8 L848.0 338.0 L848.1 337.3 L848.2 339.2 L848.6 342.2 L848.6 343.2 L849.1 344.5 L849.0 345.2 L849.2 348.6 L849.9 349.5 L850.2 350.5 L850.2 352.1 L851.0 350.5 L850.9 349.4 L851.7 346.4 L851.9 345.4 L852.7 344.7 L853.4 345.1 L853.5 346.6 L854.3 348.1 L854.7 350.9 L855.1 350.7 L856.8 351.4 L858.8 351.5 L858.9 351.7 L859.7 356.1 L860.0 355.6 L860.5 356.6 L860.6 359.7 L860.9 361.9 L861.4 362.7 L861.3 363.9 L862.1 365.0 L861.9 367.1 L862.5 369.5 L862.7 369.8 L862.8 373.2 L863.5 373.6 L863.7 376.4 L863.7 376.2 L864.5 376.7 L865.6 372.8 L866.1 372.0 L867.1 375.1 L868.6 374.4 L869.0 376.4 L869.5 378.3 L869.8 378.5 L870.3 380.7 L870.4 383.0 L870.4 385.1 L870.6 387.5 L870.8 387.0 L871.0 389.9 L871.4 387.7 L871.6 387.1 L872.0 384.3 L872.5 384.6 L872.9 381.7 L873.3 382.2 L873.5 379.4 L874.4 380.0 L874.6 383.5 L875.4 385.1 L875.9 386.1 L876.5 387.1 L876.8 388.8 L877.5 390.2 L877.8 393.4 L878.4 393.4 L879.5 394.4 L880.2 396.2 L880.6 393.4 L880.4 393.3 L880.8 392.8 L881.2 391.7 L881.5 390.2 L881.4 387.6 L881.9 387.3 L882.2 385.5 L882.6 384.0 L883.3 382.7 L883.8 379.9 L884.4 380.5 L884.6 379.2 L885.1 376.2 L885.3 379.6 L885.7 380.7 L886.1 380.9 L886.5 382.6 L886.5 384.1 L887.0 385.4 L888.2 383.3 L888.9 382.7 L890.0 383.0 L890.7 380.9 L890.8 380.7 L891.5 378.1 L891.9 376.8 L892.1 375.7 L892.6 374.0 L892.9 373.5 L893.2 371.8 L893.7 369.1 L894.9 367.1 L895.5 365.8 L895.7 367.2 L896.0 370.0 L896.0 369.8 L896.1 373.1 L896.6 372.9 L896.4 374.0 L897.0 376.1 L897.0 378.1 L897.4 380.2 L897.4 381.1 L898.5 381.0 L899.8 382.4 L900.1 379.5 L900.2 379.1 L900.5 376.7 L901.0 376.0 L901.1 375.5 L901.5 378.8 L901.9 380.1 L902.3 382.8 L902.4 382.3 L903.0 384.2 L903.3 386.3 L903.5 387.2 L904.0 387.0 L905.0 384.4 L905.3 383.2 L905.7 381.3 L905.6 380.6 L906.1 378.0 L906.1 376.4 L906.1 375.3 L906.6 373.4 L907.3 373.9 L908.4 371.6 L908.4 368.3 L908.6 368.3 L909.1 368.1 L908.8 364.7 L909.3 365.1 L909.0 362.4 L909.6 359.4 L909.6 359.9 L909.6 357.4 L909.9 356.0 L910.0 355.3 L910.2 353.3 L910.6 354.1 L910.6 357.8 L911.1 358.7 L911.1 358.6 L911.3 361.9 L911.6 361.3 L912.1 364.3 L913.3 364.1 L915.1 364.8 L915.7 363.8 L916.6 361.3 L916.8 361.6 L917.6 359.4 L917.5 357.3 L917.9 356.9 L918.5 355.5 L918.4 352.9 L918.7 351.5 L918.9 349.1 L918.9 348.3 L919.4 347.7 L920.0 346.5 L920.7 343.1 L921.4 342.6 L921.5 341.9 L922.3 340.8 L922.8 338.4 L923.2 340.9 L923.5 340.3 L924.1 343.2 L924.5 343.2 L925.1 346.5 L925.9 348.2 L926.1 349.0 L926.9 349.2 L927.3 351.9 L927.5 354.2 L928.3 354.1 L928.6 355.7 L928.8 356.3 L929.4 359.2 L929.7 361.9 L930.4 361.9 L930.9 364.3 L931.3 366.2 L931.8 367.9 L932.0 369.5 L932.3 369.9 L933.3 369.8 L934.7 369.1 L935.1 371.0 L935.4 372.1 L936.0 375.4 L936.6 375.5 L937.0 376.3 L937.6 378.8 L937.8 379.3 L938.0 379.0 L938.2 376.1 L938.3 376.1 L939.0 372.4 L938.8 371.0 L939.3 369.9 L939.6 368.7 L940.8 369.1 L940.9 370.4 L941.2 371.4 L941.2 373.0 L941.8 376.6 L941.8 376.4 L941.7 377.0 L942.4 379.7 L942.3 379.9 L942.2 383.5 L942.7 384.2 L943.4 381.8 L944.1 382.0 L944.3 380.3 L945.1 378.2 L945.3 379.6 L945.6 380.0 L945.9 382.2 L946.0 385.3 L946.2 386.5 L946.7 387.5 L947.0 388.3 L948.0 389.5 L949.4 390.5 L950.5 391.5 L951.9 393.1 L952.8 391.8 L953.3 390.4 L954.3 387.8 L955.0 385.6 L955.5 385.3 L955.6 383.3 L956.2 382.4 L956.6 384.7 L957.0 385.0 L957.8 385.6 L958.0 388.3 L959.0 386.3 L960.4 385.8 L960.9 383.8 L960.9 382.3 L961.3 381.9 L961.6 381.0 L961.9 377.8 L962.6 376.1 L962.9 375.0 L962.7 372.8 L963.1 370.9 L963.3 370.0 L963.3 369.8 L963.6 369.0 L963.6 365.6 L963.4 365.2 L963.4 363.9 L964.0 362.0 L964.0 360.4 L963.9 358.9 L963.9 355.7 L964.1 355.1 L964.8 357.8 L964.9 359.8 L965.7 361.1 L966.0 360.9 L966.5 360.6 L967.6 358.1 L968.4 358.6 L968.6 356.0 L969.0 355.5 L969.1 353.0 L969.5 351.2 L969.7 352.7 L970.2 350.1 L971.7 349.9 L972.7 349.5 L973.4 349.3 L974.4 353.0 L975.1 353.9 L975.8 350.5 L976.2 350.1 L976.4 349.1 L977.0 347.4 L978.3 344.7 L979.1 346.0 L980.0 343.9 L981.2 344.7 L982.5 344.0 L983.0 346.3 L983.2 348.5 L983.2 348.0 L983.6 349.9 L983.9 353.3 L984.1 353.9 L984.3 354.3 L984.9 358.3 L984.9 358.6 L985.6 357.7 L986.3 354.5 L987.4 354.1 L988.9 352.6 L989.8 352.3 L989.8 350.0 L990.0 347.9 L990.3 346.9 L990.5 345.5 L990.6 345.5 L991.1 343.2 L991.7 345.7 L992.6 346.5 L993.5 347.6 L994.0 344.7 L994.6 346.0 L995.2 344.1 L996.0 342.0 L997.2 341.9 L998.4 341.3 L999.6 342.2 L1000.9 342.3 L1001.5 344.7 L1001.6 345.0 L1002.2 347.5 L1002.6 348.2 L1003.0 349.1 L1003.3 351.1 L1003.8 353.5 L1004.8 352.6 L1005.1 355.4 L1005.7 354.9 L1005.8 353.4 L1006.3 352.4 L1006.4 349.6 L1007.0 348.1 L1008.7 347.5 L1010.7 347.8 L1011.2 346.6 L1011.4 344.8 L1011.7 341.4 L1011.9 341.3 L1012.7 340.9 L1013.7 339.2 L1014.5 338.5 L1015.4 336.8 L1015.8 335.9 L1016.2 333.3 L1016.6 331.8 L1016.7 331.5 L1016.8 329.1 L1017.4 328.2 L1017.3 324.0 L1017.9 324.3 L1019.0 326.0 L1019.8 326.1 L1020.9 327.6 L1021.7 327.4 L1022.1 323.3 L1023.1 321.9 L1023.8 322.7 L1024.2 320.1 L1024.3 321.0 L1024.9 322.3 L1025.3 324.2 L1026.1 326.7 L1026.5 327.1 L1026.7 328.6 L1027.9 329.0 L1028.6 329.3 L1029.9 332.0 L1030.7 332.6 L1031.8 334.7 L1032.4 335.0 L1032.7 334.6 L1033.4 333.3 L1033.7 330.3 L1034.4 327.9 L1034.9 327.2 L1036.2 327.3 L1037.1 325.3 L1037.9 325.2 L1038.5 324.1 L1038.9 322.2 L1039.1 319.8 L1039.2 319.5 L1040.0 317.2 L1040.1 317.0 L1040.5 315.1 L1040.8 314.7 L1041.2 311.3 L1041.4 311.7 L1041.6 309.8 L1042.0 307.1 L1041.8 306.8 L1042.2 305.6 L1042.7 301.8 L1042.7 300.8 L1043.0 299.6 L1043.4 298.7 L1044.1 298.0 L1044.3 296.7 L1044.9 293.7 L1044.9 291.7 L1045.4 291.1 L1045.6 289.6 L1046.0 287.1 L1046.7 286.3 L1047.3 287.0 L1047.2 288.5 L1047.6 291.3 L1048.2 293.1 L1048.6 292.4 L1048.7 296.4 L1049.2 296.4 L1050.7 296.1 L1051.4 297.0 L1053.0 295.0 L1054.2 295.6 L1055.5 294.3 L1056.7 293.3 L1057.8 291.2 L1058.3 291.0 L1059.3 290.3 L1060.0 289.3 L1060.7 288.9 L1061.3 289.9 L1061.9 293.6 L1062.5 293.7 L1063.5 296.2 L1064.2 297.6 L1065.0 297.4 L1065.8 297.0 L1066.5 293.6 L1067.5 294.4 L1067.9 295.9 L1068.9 297.8 L1069.7 297.2 L1070.0 299.8 L1070.4 301.7 L1070.5 303.2 L1070.9 304.7 L1071.4 307.6 L1071.6 309.3 L1071.6 309.3 L1072.2 312.1 L1072.4 311.8 L1072.5 313.7 L1072.9 311.0 L1073.2 311.9 L1073.8 310.0 L1073.8 308.4 L1074.1 307.1 L1074.4 304.3 L1075.0 302.5 L1075.7 302.3 L1076.1 301.1 L1076.3 298.2 L1077.3 296.6 L1077.5 295.0 L1077.6 294.7 L1077.7 293.0 L1077.9 292.0 L1078.4 287.9 L1078.6 288.5 L1078.8 285.9 L1078.8 283.7 L1079.0 282.5 L1079.1 280.3 L1079.5 280.2 L1079.7 282.0 L1079.9 283.5 L1080.0 285.6 L1080.8 287.0 L1080.9 287.9 L1080.8 290.6 L1081.3 289.4 L1081.5 292.8 L1081.7 293.6 L1082.0 295.1 L1082.1 297.7 L1082.5 298.5 L1083.0 300.5 L1083.3 301.8 L1083.8 302.7 L1084.2 305.1 L1084.5 305.2 L1084.8 303.8 L1085.2 303.7 L1085.5 299.9 L1086.3 300.2 L1086.7 298.4 L1087.0 295.9 L1087.0 296.1 L1087.5 293.4 L1088.1 295.2 L1088.9 297.0 L1089.3 297.8 L1090.0 299.9 L1090.4 297.7 L1090.6 297.6 L1091.2 294.8 L1091.7 293.2 L1091.7 293.3 L1092.4 290.1 L1092.5 289.6 L1092.9 289.5 L1093.1 287.9 L1093.5 286.5 L1094.2 284.7 L1094.1 283.3 L1094.6 280.8 L1095.0 280.5 L1095.2 279.5 L1095.4 277.4 L1095.6 275.7 L1095.9 275.6 L1096.2 272.2 L1096.2 270.4 L1096.8 269.6 L1096.7 267.9 L1097.1 266.2 L1097.3 264.7 L1097.5 263.9 L1097.7 261.0 L1097.8 261.8 L1098.0 260.0 L1098.4 257.7 L1098.4 256.7 L1098.8 253.6 L1099.1 254.4 L1099.3 252.7 L1099.5 250.7 L1100.4 250.1 L1100.6 251.9 L1101.4 253.9 L1102.0 255.7 L1102.5 258.0 L1102.6 257.6 L1103.0 259.8 L1103.3 260.7 L1103.7 262.4 L1104.1 263.6 L1104.5 266.9 L1105.0 265.9 L1105.6 264.8 L1105.5 260.8 L1106.2 260.0 L1106.3 260.6 L1107.0 257.8 L1107.7 257.2 L1108.9 255.9 L1109.5 253.4 L1109.8 255.8 L1109.8 257.6 L1109.9 258.8 L1110.4 258.4 L1110.6 260.8 L1111.2 261.9 L1111.1 263.9 L1111.6 265.3 L1111.9 266.2 L1112.0 267.7 L1112.1 270.0 L1112.1 268.8 L1112.2 267.9 L1112.6 266.2 L1113.0 264.9 L1112.7 263.1 L1112.8 261.5 L1113.4 259.9 L1113.1 256.3 L1113.4 256.7 L1113.8 254.7 L1113.8 253.1 L1114.4 251.2 L1114.8 250.9 L1115.3 247.8 L1115.7 246.5 L1115.9 245.0 L1116.3 243.3 L1117.2 241.1 L1117.7 240.6 L1118.3 239.1 L1118.8 237.6 L1119.2 235.0 L1119.6 235.0 L1120.0 234.4 L1121.0 231.8 L1121.3 230.4 L1121.4 227.6 L1122.0 227.8 L1122.2 224.6 L1122.5 224.9 L1123.4 222.3 L1123.7 220.8 L1123.8 219.5 L1123.7 217.6 L1124.1 217.7 L1124.4 216.3 L1124.1 214.6 L1124.2 212.2 L1124.5 211.7 L1125.0 209.2 L1125.0 209.2 L1125.3 205.9 L1125.0 205.7 L1125.6 203.0 L1125.7 203.0 L1125.6 200.0 L1126.1 197.4 L1126.2 195.9 L1126.6 194.9 L1126.6 193.2 L1127.1 193.1 L1127.1 191.9 L1127.6 188.3 L1127.8 190.8 L1128.1 193.0 L1128.4 192.0 L1128.9 194.2 L1129.2 197.4 L1129.3 196.8 L1129.8 198.6 L1129.9 200.0 L1130.1 202.8 L1130.3 200.2 L1130.2 198.4 L1130.4 197.4 L1131.0 196.4 L1130.9 196.3 L1131.4 193.5 L1131.4 191.5 L1131.9 190.2 L1132.0 188.6 L1132.1 187.1 L1132.1 185.4 L1132.3 183.7 L1132.8 182.6 L1133.1 181.9 L1132.9 179.3 L1133.2 177.6 L1133.6 175.7 L1133.4 175.1 L1133.8 173.8 L1134.0 175.2 L1134.6 176.4 L1135.0 180.1 L1135.0 179.5 L1135.5 181.3 L1135.9 183.2 L1136.3 184.8 L1136.8 185.5 L1136.8 189.4 L1136.9 190.8 L1137.0 191.8 L1137.4 193.0 L1137.6 194.7 L1137.5 195.9 L1138.0 198.0 L1137.7 197.8 L1138.1 199.5 L1138.2 200.9 L1138.4 202.4 L1138.7 204.3 L1139.0 207.9 L1139.8 206.6 L1139.9 209.3 L1140.1 211.1 L1140.6 211.1 L1141.5 215.1 L1142.6 215.0 L1143.3 212.8 L1144.0 211.6 L1144.5 209.5 L1145.1 209.4 L1145.6 207.4 L1145.8 204.5 L1146.1 204.0 L1145.8 203.5 L1146.0 202.2 L1146.6 200.0 L1146.4 197.5 L1146.7 198.0 L1147.1 196.3 L1147.6 193.1 L1147.6 192.4 L1148.0 190.3 L1147.8 191.0 L1147.8 189.4 L1148.2 187.3 L1148.2 184.1 L1148.5 182.8 L1148.5 181.6 L1148.6 180.8 L1148.8 177.5 L1148.8 178.3 L1149.4 175.0 L1149.5 173.2 L1149.2 172.1 L1149.8 171.8 L1149.5 169.5 L1149.5 167.0 L1150.1 167.2 L1150.1 164.8 L1150.4 166.4 L1150.5 168.6 L1150.3 170.8 L1150.7 172.4 L1150.9 172.0 L1150.8 173.4 L1151.2 176.5 L1151.3 177.3 L1151.2 179.6 L1151.7 178.8 L1151.5 180.2 L1151.7 181.8 L1151.5 185.4 L1151.9 186.0 L1152.1 187.7 L1152.5 187.2 L1152.6 183.1 L1152.8 182.7 L1153.3 182.4 L1153.5 179.3 L1154.2 178.3 L1154.3 175.4 L1154.6 174.8 L1154.9 175.2 L1155.4 178.4 L1155.8 181.0 L1156.1 182.3 L1156.3 182.8 L1156.8 182.2 L1156.7 180.3 L1157.3 177.4 L1157.3 175.1 L1157.5 176.0 L1157.8 173.5 L1158.3 172.4 L1158.3 169.2 L1158.5 170.1 L1158.8 168.1 L1159.0 165.2 L1159.4 163.4 L1159.5 162.7 L1159.3 161.7 L1159.4 160.6 L1160.0 159.2 L1160.0 155.6 L1160.1 154.3 L1160.3 154.5 L1160.2 151.8 L1160.6 149.5 L1160.7 148.4 L1160.9 148.2 L1161.0 146.5 L1160.9 145.1 L1161.3 140.9 L1161.1 141.2 L1161.4 138.9 L1162.0 137.6 L1162.0 136.8 L1162.3 135.0 L1162.5 133.0 L1162.7 132.5 L1163.3 130.4 L1163.5 127.8 L1164.3 128.4 L1164.7 126.3 L1164.8 125.5 L1165.2 123.6 L1165.2 123.5 L1165.6 127.3 L1165.7 129.4 L1165.9 128.9 L1166.3 132.4 L1166.2 131.9 L1166.7 134.2 L1167.2 134.1 L1167.4 136.0 L1167.4 139.6 L1167.9 140.2 L1168.0 141.3 L1168.3 143.4 L1170.2 141.4 L1170.2 143.5 L1171.1 145.1 L1171.2 146.1 L1171.4 147.8 L1171.5 149.1 L1171.6 152.1 L1171.8 151.1 L1172.0 154.2 L1172.0 155.4 L1172.1 157.6 L1172.2 157.8 L1172.5 159.5 L1173.1 157.6 L1173.5 156.7 L1173.9 154.7 L1174.5 154.2 L1174.6 156.7 L1175.3 157.4 L1175.6 158.4 L1175.8 158.7 L1175.7 159.9 L1176.2 162.0 L1176.7 159.5 L1176.8 159.0 L1177.1 158.7 L1177.5 157.6 L1178.0 155.6 L1178.3 157.7 L1178.7 159.4 L1178.6 161.0 L1178.9 161.0 L1179.3 162.6 L1179.4 165.5 L1179.6 166.1 L1180.0 167.4 L1180.3 164.7 L1180.6 165.0 L1180.9 164.3 L1181.4 161.1 L1181.2 160.1 L1181.8 159.0 L1182.0 157.2 L1181.9 155.1 L1182.2 154.4 L1182.2 153.5 L1182.4 151.3 L1182.5 148.4 L1183.0 148.1 L1183.0 145.9 L1183.3 145.4 L1183.3 144.0 L1183.2 141.2 L1183.3 140.6 L1183.8 137.4 L1183.7 137.9 L1183.4 136.1 L1183.9 134.3 L1183.8 131.3 L1184.0 130.6 L1184.3 130.1 L1184.4 125.9 L1184.4 125.2 L1184.8 122.8 L1184.8 121.8 L1185.4 121.0 L1185.4 118.7 L1185.5 118.0 L1186.2 120.2 L1186.8 120.3 L1187.1 122.3 L1188.2 121.1 L1189.0 120.2 L1190.9 120.1 L1191.2 119.2 L1191.4 115.8 L1191.2 116.5 L1191.6 113.4 L1192.0 113.7 L1191.9 109.8 L1191.8 108.0 L1192.5 106.7 L1192.3 107.2 L1192.7 104.8 L1192.8 102.7 L1192.8 105.3 L1193.0 105.0 L1193.6 108.3 L1193.4 108.4 L1194.0 111.0 L1194.4 112.5 L1194.3 113.0 L1194.7 114.3 L1194.9 114.7 L1194.9 116.7 L1194.8 119.9 L1195.5 119.8 L1195.7 121.4 L1195.5 123.9 L1195.9 124.7 L1196.1 122.8 L1196.2 122.4 L1196.6 119.0 L1196.6 117.8 L1196.6 118.3 L1196.8 114.5 L1196.7 113.1 L1196.9 112.0 L1197.4 111.6 L1197.6 109.7 L1197.5 107.9 L1198.8 106.6 L1200.3 105.9 L1200.3 104.9 L1200.5 102.7 L1200.4 100.9 L1200.5 100.6 L1200.7 98.1 L1201.1 96.6 L1201.3 96.2 L1201.1 94.2 L1201.1 90.8 L1201.3 91.9 L1201.4 88.9 L1201.5 87.3 L1201.7 85.6 L1201.6 84.6 L1201.7 82.1 L1202.2 81.6 L1202.2 80.7 L1202.4 78.4 L1202.4 78.0 L1202.3 75.7 L1202.7 74.6 L1202.7 71.9 L1202.5 70.1 L1202.9 69.0 L1202.8 67.6 L1203.1 67.8 L1202.8 64.2 L1203.4 64.0 L1203.4 62.5 L1203.5 61.7 L1203.4 57.6 L1203.6 56.9 L1203.7 54.6 L1203.6 54.7 L1203.8 52.7 L1204.1 53.6 L1204.4 55.5 L1204.0 57.0 L1204.5 57.3 L1204.7 58.9 L1204.6 61.6 L1205.1 62.8 L1205.0 64.7 L1205.2 66.0 L1205.3 67.5 L1205.4 69.8 L1205.3 70.1 L1205.4 72.2 L1205.6 73.0 L1206.1 75.0 L1205.8 77.0 L1206.1 78.5 L1206.4 78.8 L1206.6 81.7 L1206.3 83.7 L1206.3 86.3 L1206.5 85.4 L1206.6 87.0 L1206.7 90.8 L1206.8 91.1 L1206.9 92.1 L1207.1 93.9 L1207.6 96.5 L1207.4 96.5 L1207.9 99.3 L1207.8 99.2 L1207.8 102.0 L1208.1 100.5 L1208.0 99.6 L1208.3 98.3 L1208.2 95.0 L1208.7 93.4 L1208.4 93.8 L1208.5 91.4 L1209.0 88.3 L1209.0 88.2 L1209.1 86.3 L1209.2 84.5 L1209.2 84.6 L1209.4 82.0 L1209.7 80.0 L1209.5 77.3 L1209.5 77.5 L1209.9 75.4 L1209.7 74.4 L1209.9 72.4 L1210.3 72.0 L1210.3 69.9 L1210.5 67.9 L1210.5 67.3 L1210.3 64.7 L1211.4 64.1 L1212.2 62.2 L1212.2 64.8 L1212.7 64.1 L1213.1 66.0 L1213.0 69.6 L1213.3 70.9 L1213.5 72.8 L1214.0 72.3 L1213.7 74.1 L1214.1 76.7 L1214.6 75.4 L1214.9 72.7 L1215.0 73.1 L1215.3 69.2 L1215.2 68.9 L1216.0 67.3 L1216.0 66.2 L1216.5 67.8 L1216.3 70.1 L1216.7 70.5 L1217.0 72.6 L1216.9 74.5 L1217.4 76.7 L1217.3 77.1 L1217.9 78.5 L1217.9 79.9 L1218.1 81.2 L1218.3 83.9 L1218.3 84.4 L1218.0 85.4 L1218.2 88.3 L1218.4 90.3 L1218.8 90.2 L1219.0 90.8 L1218.5 93.2 L1218.7 94.7 L1219.0 96.0 L1218.9 98.4 L1219.0 101.2 L1219.2 100.0 L1219.6 101.2 L1219.2 103.2 L1219.5 106.1 L1219.7 106.7 L1219.7 105.6 L1220.2 102.9 L1220.3 101.9 L1220.9 101.2 L1220.9 100.0 L1221.1 97.6 L1221.6 96.0 L1221.6 95.7 L1221.7 94.7 L1221.8 92.8 L1222.3 91.5 L1221.9 88.1 L1222.3 89.0 L1222.6 86.9 L1222.3 85.4 L1222.6 82.2 L1223.0 82.5 L1222.8 79.0 L1223.4 79.2 L1223.2 75.4 L1223.4 74.1 L1223.5 72.3 L1223.4 71.2 L1223.6 72.1 L1224.1 70.4 L1224.1 67.4 L1224.1 68.7 L1224.3 69.9 L1224.4 71.0 L1224.3 73.6 L1224.4 76.5 L1224.8 77.0 L1224.8 78.9 L1224.7 79.5 L1224.6 81.9 L1225.2 82.9 L1225.0 84.0 L1225.3 86.3 L1225.3 86.7 L1225.4 89.6 L1225.4 89.9 L1225.7 93.1 L1225.9 93.4 L1226.6 94.8 L1226.8 96.9 L1227.2 95.6 L1227.7 98.3 L1227.6 100.5 L1228.0 102.2 L1228.1 101.5 L1227.7 103.1 L1228.1 104.7 L1227.8 108.8 L1228.3 109.2 L1227.9 111.3 L1228.4 111.9 L1228.2 114.6 L1228.0 115.3 L1228.4 116.2 L1228.1 116.7 L1228.1 119.8 L1228.6 120.1 L1228.5 121.6 L1228.5 124.6 L1228.7 125.7 L1228.7 125.9 L1228.7 128.9 L1228.5 130.3 L1228.8 132.3 L1228.8 134.1 L1229.0 136.3 L1229.1 137.6 L1229.1 137.5 L1229.2 139.1 L1229.1 140.9 L1229.6 144.4 L1229.5 144.5 L1229.5 146.4 L1229.7 148.1 L1230.2 149.3 L1230.3 150.5 L1230.3 149.1 L1230.6 148.0 L1230.9 146.0 L1231.7 144.1 L1231.7 142.7 L1232.1 141.2 L1231.9 139.3 L1232.3 138.5 L1232.2 136.4 L1232.4 134.5 L1232.8 134.1 L1232.9 132.8 L1233.3 134.5 L1233.6 135.2 L1234.0 138.1 L1234.1 139.4 L1234.2 140.6 L1234.3 142.8 L1234.8 142.8 L1235.0 143.3 L1235.4 147.0 L1235.7 145.7 L1235.6 147.3 L1236.0 150.0 L1236.7 150.2 L1237.3 153.9 L1237.5 155.2 L1237.5 156.4 L1237.9 157.6 L1237.9 160.7 L1238.3 161.3 L1238.5 162.0 L1238.5 163.7 L1239.0 165.1 L1238.8 166.1 L1239.1 169.4 L1239.3 169.8 L1239.5 172.1 L1239.7 173.7 L1240.4 171.2 L1241.1 170.1 L1241.8 168.6 L1242.2 167.2 L1242.7 169.4 L1242.9 169.8 L1242.6 172.1 L1243.1 173.6 L1243.6 173.5 L1243.9 176.9 L1243.9 176.6 L1244.1 179.4 L1244.4 179.5 L1244.7 181.9 L1244.9 183.4 L1245.2 185.0 L1245.5 184.1 L1246.2 182.1 L1246.6 181.5 L1246.8 180.5 L1247.4 178.7 L1247.7 176.1 L1248.3 178.3 L1248.7 179.0 L1249.5 180.7 L1250.2 181.2 L1251.0 182.9 L1251.7 185.8 L1251.9 186.5 L1252.7 187.6 L1252.8 186.4 L1253.0 185.8 L1253.7 183.2 L1253.6 180.8 L1254.1 181.4 L1254.2 178.5 L1254.0 177.4 L1254.7 177.0 L1254.6 175.5 L1255.2 172.9 L1255.2 171.7 L1255.1 173.9 L1255.4 174.9 L1255.7 174.9 L1255.7 176.3 L1256.0 178.9 L1256.2 180.1 L1256.2 182.2 L1256.4 183.0 L1256.7 183.9 L1256.7 188.1 L1257.0 189.6 L1257.2 190.0 L1257.5 192.3 L1258.2 192.9 L1258.2 193.0 L1258.6 195.2 L1259.1 197.3 L1259.6 198.0 L1259.7 200.6 L1260.3 202.4 L1260.4 203.9 L1261.2 204.9 L1261.8 205.5 L1262.2 207.4 L1263.2 210.0 L1264.7 209.8 L1265.7 209.4 L1267.2 208.3 L1267.3 210.9 L1267.8 210.8 L1267.9 214.6 L1268.0 215.4 L1268.5 217.9 L1268.5 219.1 L1268.7 218.9 L1269.0 221.2 L1268.9 220.2 L1269.3 217.5 L1269.2 215.8 L1269.6 215.5 L1270.0 214.9 L1270.0 212.6 L1270.1 210.7 L1270.5 209.1 L1270.2 208.0 L1270.8 206.3 L1270.7 204.5 L1271.1 205.0 L1271.0 202.0 L1271.3 199.7 L1271.7 199.6 L1271.8 197.4 L1271.8 195.6 L1272.4 194.0 L1272.8 191.4 L1272.7 190.7 L1273.8 190.5 L1275.2 190.1 L1276.1 188.1 L1277.1 186.2 L1277.7 186.8 L1278.2 185.8 L1278.5 182.0 L1279.0 181.7 L1279.3 179.7 L1279.2 177.7 L1280.2 175.6 L1280.2 174.8 L1280.5 172.4 L1281.4 173.3 L1281.5 170.1 L1282.2 169.1 L1283.0 168.8 L1283.4 171.7 L1284.2 172.0 L1284.7 175.5 L1285.2 173.3 L1285.1 171.0 L1285.3 170.1 L1285.7 170.2 L1286.1 165.7 L1286.1 164.6 L1286.4 165.0 L1286.7 162.2 L1286.8 165.1 L1286.9 166.9 L1287.7 165.7 L1287.7 168.9 L1287.7 170.9 L1287.9 172.6 L1288.3 174.1 L1288.8 175.7 L1288.5 176.9 L1289.0 177.5 L1290.2 178.1 L1291.5 175.9 L1291.5 177.7 L1292.0 178.0 L1292.1 179.2 L1292.6 181.6 L1292.6 183.3 L1292.6 185.6 L1292.9 186.6 L1293.5 187.8 L1293.8 190.9 L1293.5 192.0 L1294.0 192.5 L1294.3 193.7 L1294.8 195.7 L1295.1 195.9 L1295.6 197.6 L1295.9 201.9 L1296.4 203.0 L1296.5 204.3 L1297.8 202.5 L1299.0 202.5 L1299.3 204.2 L1299.5 204.2 L1300.2 205.8 L1300.0 209.7 L1300.8 210.8 L1301.0 212.3 L1301.1 213.5 L1301.5 214.9 L1301.6 212.4 L1301.9 211.3 L1302.1 210.4 L1302.3 210.8 L1302.9 207.6 L1302.7 206.1 L1303.2 205.1 L1303.6 206.1 L1303.6 207.7 L1303.9 209.8 L1303.8 210.2 L1304.1 213.7 L1304.7 215.7 L1304.5 216.1 L1304.6 216.8 L1305.2 219.4 L1305.2 221.4 L1305.8 223.5 L1305.7 224.0 L1306.4 222.2 L1306.2 220.6 L1306.6 220.2 L1307.1 217.0 L1307.6 216.8 L1308.2 214.3 L1308.2 213.0 L1309.3 214.2 L1310.6 214.3 L1311.5 216.6 L1312.1 216.0 L1312.5 214.6 L1313.6 211.0 L1314.0 210.4 L1314.4 210.6 L1315.1 212.2 L1315.6 215.1 L1315.7 215.8 L1316.5 217.4 L1317.9 220.1 L1319.0 220.2 L1319.3 218.8 L1319.5 215.5 L1319.7 214.8 L1320.2 213.4 L1320.5 212.0 L1320.9 211.5 L1321.2 210.3 L1321.5 207.3 L1321.9 205.8 L1322.3 203.4 L1322.6 204.3 L1323.0 201.9 L1323.1 198.3 L1323.2 197.8 L1323.4 196.3 L1324.0 195.3 L1324.4 192.4 L1325.1 190.9 L1325.3 189.9 L1325.6 187.8 L1325.8 187.5 L1326.5 186.7 L1326.9 185.5 L1327.5 183.6 L1328.6 182.3 L1329.0 180.9 L1330.3 181.6 L1331.5 180.2 L1332.0 183.0 L1333.0 183.8 L1333.2 184.7 L1334.0 186.6 L1334.6 187.4 L1335.5 190.0 L1336.5 190.3 L1336.7 190.7 L1336.8 193.3 L1337.5 195.0 L1337.5 195.9 L1337.5 199.3 L1338.1 200.7 L1337.8 201.6 L1338.2 202.1 L1338.4 204.4 L1339.1 207.3 L1339.0 207.1 L1340.2 209.1 L1341.5 208.8 L1341.8 207.2 L1342.3 206.0 L1342.4 204.0 L1342.8 202.7 L1343.3 202.0 L1343.8 200.9 L1344.0 198.9 L1344.6 196.7 L1345.5 195.1 L1346.0 196.3 L1346.5 193.8 L1346.8 194.7 L1347.0 197.5 L1347.0 198.3 L1347.6 198.7 L1347.7 202.1 L1347.9 202.4 L1348.3 203.3 L1348.7 204.8 L1348.8 206.6 L1349.2 208.7 L1349.5 210.6 L1349.8 213.0 L1350.2 213.7 L1350.3 215.0 L1350.2 216.7 L1350.6 218.6 L1350.4 221.0 L1350.9 220.5 L1351.0 223.6 L1351.3 223.5 L1351.3 226.1 L1351.3 228.4 L1351.4 229.0 L1351.6 229.4 L1351.7 233.4 L1351.8 234.1 L1351.6 235.7 L1352.1 237.7 L1352.1 237.5 L1352.0 238.6 L1352.3 241.2 L1353.7 241.3 L1354.8 241.9 L1354.8 240.6 L1354.9 237.9 L1355.2 237.0 L1355.4 235.6 L1355.7 234.4 L1355.7 232.2 L1355.7 231.5 L1355.8 229.9 L1356.2 227.4 L1356.3 226.5 L1356.5 225.5 L1357.4 223.1 L1357.6 223.3 L1358.6 220.7 L1359.0 220.2 L1359.6 219.0 L1359.6 216.2 L1360.0 217.3 L1360.3 214.7 L1361.0 211.8 L1361.1 212.3 L1361.6 209.6 L1362.0 209.3 L1362.7 207.7 L1363.2 206.8 L1364.1 203.6 L1365.0 204.2 L1365.5 207.2 L1366.6 207.6 L1366.9 207.2 L1367.4 205.0 L1367.9 202.1 L1368.0 202.0 L1368.1 198.6 L1368.7 199.0 L1369.1 196.3 L1369.4 194.8 L1370.0 192.8 L1371.2 193.7 L1371.6 191.2 L1372.9 192.3 L1374.1 193.1 L1374.1 192.5 L1374.7 190.9 L1375.1 187.7 L1375.4 185.3 L1375.3 186.4 L1375.8 183.5 L1376.4 186.7 L1376.7 187.0 L1376.6 186.8 L1376.7 190.6 L1377.0 190.4 L1377.8 192.6 L1377.8 193.8 L1377.7 193.2 L1378.5 190.5 L1378.2 190.6 L1378.4 186.6 L1378.6 187.4 L1378.9 183.8 L1379.3 182.9 L1379.5 181.5 L1379.7 179.9 L1379.8 178.0 L1379.9 176.5 L1380.3 174.4 L1380.3 173.6 L1381.7 174.5 L1382.8 172.0 L1383.7 172.5 L1383.9 170.3 L1384.6 169.8 L1385.3 168.0 L1385.7 167.4 L1386.8 164.5 L1387.0 164.7 L1388.0 162.3 L1388.3 160.7 L1388.9 158.8 L1389.3 158.0 L1389.6 156.6 L1390.1 155.9 L1390.5 152.8 L1390.8 153.1 L1391.1 152.4 L1391.7 149.7 L1392.3 149.6 L1392.9 147.9 L1393.3 146.5 L1394.1 143.8 L1394.7 145.6 L1395.5 146.2 L1396.2 147.2 L1396.6 150.5 L1397.3 152.2 L1397.8 152.2 L1398.3 153.0 L1399.1 155.0 L1399.3 152.2 L1400.4 152.5 L1400.3 151.1 L1400.8 147.8 L1401.6 147.6 L1402.8 149.5 L1404.1 149.5 L1404.5 152.9 L1404.8 152.2 L1404.7 156.1 L1404.8 156.6 L1405.2 157.6 L1405.7 161.0 L1405.8 161.0 L1405.9 160.5 L1406.3 156.9 L1406.9 157.6 L1406.8 154.5 L1407.2 153.4 L1407.5 152.7 L1407.7 149.8 L1407.8 149.2 L1408.3 147.1 L1409.4 145.9 L1410.9 145.7 L1411.0 147.8 L1411.3 148.7 L1411.2 150.2 L1411.4 152.8 L1411.1 155.1 L1411.2 154.1 L1411.5 155.7 L1411.9 158.5 L1411.9 161.0 L1411.9 161.5 L1411.9 162.1 L1411.9 164.0 L1412.1 166.4 L1412.4 168.1 L1413.0 165.5 L1413.2 163.8 L1413.9 162.8 L1414.2 162.9 L1414.9 159.4 L1415.2 160.4 L1415.4 161.9 L1415.6 163.8 L1415.7 165.9 L1415.6 167.8 L1415.7 168.1 L1416.2 171.0 L1416.3 172.8 L1416.4 174.2 L1416.2 176.3 L1416.6 177.6 L1417.2 179.4 L1417.7 179.1 L1418.8 181.0 L1419.1 182.5 L1419.7 183.3 L1420.6 186.4 L1421.0 186.1 L1421.6 188.3 L1421.9 189.8 L1422.0 191.0 L1422.4 194.4 L1422.6 195.8 L1423.0 195.6 L1423.2 199.1 L1423.9 198.9 L1424.1 201.2 L1424.2 201.0 L1424.7 197.0 L1424.8 196.6 L1425.3 194.5 L1425.1 194.7 L1425.3 192.0 L1425.5 192.4 L1425.8 189.2 L1426.2 187.9 L1426.4 185.8 L1426.6 185.2 L1428.2 183.0 L1429.1 182.4 L1430.6 183.4 L1431.6 183.6 L1431.6 183.9 L1431.6 185.7 L1432.0 189.7 L1432.0 189.1 L1431.9 191.2 L1432.0 192.5 L1432.4 196.0 L1432.7 196.4 L1432.6 198.1 L1432.7 200.1 L1433.0 200.5 L1433.0 201.3 L1433.1 203.1 L1433.2 204.7 L1433.4 206.8 L1433.4 208.6 L1434.7 206.4 L1435.9 206.2 L1436.2 208.6 L1436.4 208.0 L1436.8 209.6 L1436.8 212.9 L1436.7 213.9 L1437.1 215.3 L1437.8 216.5 L1437.7 218.3 L1438.1 219.8 L1438.4 221.0 L1438.4 223.4 L1438.6 221.7 L1438.7 220.4 L1439.0 220.4 L1439.2 217.5 L1439.7 215.3 L1439.8 215.4 L1440.4 213.7 L1441.1 211.9 L1441.2 212.2 L1441.3 209.9 L1442.2 207.9 L1442.4 206.7 L1444.0 206.3 L1445.4 205.6 L1445.5 203.8 L1445.9 202.5 L1446.1 201.5 L1446.7 199.9 L1446.8 197.7 L1447.3 195.6 L1447.7 195.6 L1447.9 192.8 L1449.1 193.4 L1450.4 191.4 L1451.6 191.0 L1452.8 189.9 L1454.1 189.5 L1454.6 192.6 L1455.3 193.6 L1455.7 193.3 L1456.6 195.0 L1456.7 192.7 L1457.3 192.8 L1457.3 189.2 L1457.6 190.2 L1457.7 188.5 L1457.4 186.0 L1458.1 183.6 L1458.0 182.7 L1458.2 182.1 L1458.4 179.7 L1459.9 180.6 L1460.9 182.5 L1461.3 181.8 L1461.4 179.2 L1461.8 178.2 L1461.9 177.1 L1462.5 175.2 L1462.6 173.3 L1462.9 172.8 L1463.4 174.4 L1463.8 174.2 L1463.9 177.6 L1464.8 177.4 L1465.2 179.7 L1465.4 180.8 L1466.5 183.3 L1467.5 182.1 L1468.4 183.8 L1470.3 183.0 L1471.7 183.2 L1472.3 184.7 L1472.3 187.9 L1472.7 189.5 L1473.5 189.2 L1473.7 190.0 L1474.2 192.4 L1474.4 194.1 L1474.8 194.8 L1475.3 196.9 L1475.3 197.4 L1475.9 200.4 L1477.1 199.2 L1477.8 198.0 L1479.2 195.9 L1479.6 196.1 L1480.2 192.9 L1480.7 191.1 L1480.7 191.0 L1481.3 189.8 L1481.7 187.3 L1482.0 185.0 L1482.6 184.6 L1483.1 184.3 L1483.9 181.8 L1484.2 180.4 L1485.0 179.2 L1485.6 178.0 L1485.9 176.8 L1486.7 175.2 L1487.4 177.3 L1487.6 177.9 L1488.7 180.0 L1489.2 181.7 L1489.5 180.1 L1489.6 177.5 L1489.8 177.8 L1490.2 175.3 L1490.9 173.7 L1490.9 172.0 L1491.3 171.7 L1491.3 168.1 L1491.5 167.2 L1492.2 165.9 L1492.3 166.1 L1492.6 163.0 L1492.9 161.0 L1493.1 159.4 L1493.4 158.3 L1493.7 157.1 L1493.8 155.0 L1494.2 153.6 L1495.2 154.5 L1496.7 155.2 L1497.8 156.7 L1499.2 158.0 L1500.6 157.4 L1501.7 156.2 L1501.9 159.1 L1502.4 159.2 L1502.8 160.0 L1502.8 163.3 L1503.3 164.1 L1504.0 165.0 L1504.2 166.3 L1505.2 166.0 L1505.7 162.3 L1506.7 162.8 L1507.3 164.7 L1507.8 164.3 L1508.6 166.7 L1509.2 169.0 L1509.7 169.5 L1510.0 172.1 L1510.3 174.2 L1510.7 175.4 L1511.3 176.9 L1511.7 177.3 L1512.3 177.0 L1513.0 175.2 L1513.5 171.5 L1514.2 170.9 L1515.2 171.4 L1516.7 173.9 L1517.6 175.3 L1517.9 176.4 L1519.1 179.4 L1519.7 180.8 L1520.5 181.0 L1520.6 181.1 L1520.9 178.6 L1521.8 176.4 L1521.9 176.7 L1522.3 172.9 L1522.8 173.9 L1523.0 170.7 L1523.6 169.3 L1524.1 167.4 L1524.7 167.7 L1525.5 166.6 L1526.0 166.1 L1526.8 163.2 L1527.4 160.6 L1528.0 160.1 L1529.0 161.6 L1530.0 161.7 L1530.6 160.7 L1531.7 159.6 L1532.6 157.6 L1533.3 158.8 L1533.8 159.8 L1534.3 162.4 L1535.1 162.4 L1535.2 163.6 L1535.8 164.2 L1536.2 168.3 L1536.3 167.5 L1537.2 169.1 L1537.5 170.6 L1537.6 172.7 L1538.1 172.9 L1537.9 175.5 L1538.5 178.4 L1538.6 177.6 L1538.7 180.2 L1539.4 182.3 L1539.2 184.0 L1539.6 185.7 L1540.7 186.1 L1542.1 186.8 L1542.8 186.2 L1543.2 184.8 L1543.9 180.5 L1544.4 180.9 L1544.6 179.4 L1545.9 178.7 L1547.6 178.1 L1548.6 175.7 L1549.6 176.2 L1549.7 176.8 L1549.7 180.0 L1549.8 181.4 L1550.4 181.3 L1550.0 183.2 L1550.4 185.8 L1550.8 187.2 L1550.7 187.9 L1550.6 190.9 L1550.8 191.9 L1550.8 194.4 L1551.3 193.6 L1551.4 194.9 L1551.4 197.4 L1552.7 199.3 L1553.9 200.4 L1554.5 200.2 L1555.5 196.3 L1556.4 195.8 L1557.1 197.6 L1557.0 198.7 L1557.6 199.8 L1557.9 202.5 L1558.1 205.7 L1558.4 206.4 L1558.9 208.1 L1559.0 210.6 L1559.1 211.9 L1559.4 210.7 L1559.4 213.1 L1559.6 214.6 L1560.1 216.2 L1560.2 217.3 L1560.3 220.7 L1560.3 219.9 L1560.7 222.2 L1561.4 223.6 L1561.9 226.3 L1562.6 226.0 L1563.2 229.4 L1563.5 227.1 L1563.7 225.8 L1563.8 225.4 L1564.6 222.2 L1564.8 219.6 L1564.8 219.4 L1565.2 218.1 L1565.5 220.3 L1565.9 219.3 L1566.7 220.9 L1567.2 222.5 L1567.4 221.6 L1568.1 218.2 L1568.6 217.6 L1569.2 217.0 L1569.7 214.6 L1569.7 215.3 L1570.6 218.7 L1570.7 220.4 L1571.1 221.7 L1571.2 221.0 L1571.8 224.5 L1572.2 225.3 L1572.9 226.0 L1573.8 226.8 L1574.7 228.8 L1576.2 228.4 L1577.7 227.9 L1578.7 227.6 L1579.3 229.2 L1580.2 231.1 L1580.1 228.4 L1580.6 226.8 L1580.9 225.7 L1581.3 225.5 L1581.2 223.0 L1581.7 222.8 L1582.0 221.7 L1581.7 220.2 L1582.2 217.6 L1582.7 216.7 L1582.6 214.7 L1582.8 212.1 L1583.2 210.7 L1583.6 209.4 L1583.7 208.0 L1583.9 207.4 L1584.2 205.5 L1585.1 204.4 L1585.4 203.2 L1585.8 200.8 L1586.4 200.5 L1587.2 197.6 L1587.7 198.5 L1588.2 195.9 L1588.9 195.3 L1589.4 194.0 L1590.4 191.5 L1591.0 189.1 L1591.4 189.0 L1592.1 186.5 L1592.4 185.4 L1592.5 184.4 L1592.9 182.5 L1593.8 182.2 L1593.9 179.6 L1595.2 178.6 L1596.4 178.9 L1597.4 179.8 L1597.9 182.8 L1598.9 182.2 L1599.4 184.0 L1599.6 186.3 L1600.2 188.1 L1600.2 189.6 L1600.7 191.3 L1601.0 191.7 L1600.8 190.8 L1601.3 189.8 L1601.3 187.3 L1601.3 184.9 L1601.3 183.4 L1601.4 182.0 L1601.5 181.7 L1601.8 178.1 L1602.0 178.3 L1601.5 176.6 L1602.2 173.5 L1602.0 173.6 L1601.9 172.8 L1602.2 170.5 L1602.1 167.7 L1602.8 168.1 L1602.8 164.1 L1603.1 165.4 L1603.3 162.8 L1603.3 162.0 L1603.2 160.8 L1603.5 157.2 L1603.5 157.7 L1604.0 154.8 L1604.7 153.5 L1605.1 152.0 L1605.2 149.2 L1605.7 148.4 L1606.9 149.1 L1607.7 151.1 L1607.9 149.6 L1608.4 146.8 L1608.6 147.1 L1608.7 144.1 L1609.0 144.5 L1609.2 141.9 L1609.4 141.8 L1609.3 139.8 L1609.7 137.7 L1609.8 139.6 L1610.0 141.2 L1610.4 142.8 L1610.6 142.1 L1610.9 145.9 L1611.2 146.6 L1611.4 146.7 L1611.9 149.4 L1611.7 150.3 L1612.2 153.0 L1612.6 154.8 L1613.6 154.8 L1614.0 156.7 L1614.7 158.9 L1616.1 159.4 L1617.2 157.0 L1617.8 155.8 L1617.9 155.1 L1618.2 153.7 L1618.6 150.3 L1618.7 149.3 L1619.0 148.5 L1619.4 146.1 L1620.4 146.2 L1620.8 144.7 L1621.5 144.2 L1621.8 142.7 L1621.7 141.1 L1621.9 140.7 L1622.4 137.0 L1622.5 136.3 L1622.4 134.9 L1622.7 133.1 L1622.9 131.8 L1622.9 129.0 L1623.3 129.6 L1623.5 127.2 L1624.6 129.6 L1626.0 130.5 L1626.6 129.8 L1627.4 126.5 L1627.7 125.2 L1628.0 122.1 L1628.5 122.9 L1628.4 121.1 L1629.0 119.8 L1629.3 116.6 L1629.3 115.1 L1629.7 113.9 L1630.1 116.1 L1630.5 117.5 L1630.7 118.9 L1630.6 119.3 L1630.9 120.4 L1631.2 122.0 L1631.5 123.3 L1631.8 122.4 L1631.8 120.1 L1632.3 120.5 L1632.5 118.3 L1632.5 114.5 L1633.0 114.9 L1633.1 111.7 L1633.5 111.8 L1633.7 108.3 L1634.0 108.1 L1634.0 105.7 L1634.5 108.4 L1634.3 110.1 L1635.0 110.3 L1635.0 112.2 L1635.2 113.1 L1635.4 113.6 L1635.7 116.7 L1635.8 119.0 L1636.5 120.0 L1636.5 120.2 L1636.7 122.9 L1637.3 124.8 L1637.7 125.6 L1637.7 128.1 L1638.2 128.1 L1638.6 129.2 L1638.7 130.5 L1639.3 134.0 L1639.3 134.4 L1639.9 137.0 L1640.2 137.2 L1641.2 137.4 L1641.9 135.6 L1642.7 134.1 L1642.8 131.2 L1643.1 131.3 L1643.0 128.7 L1643.7 126.9 L1643.8 124.9 L1643.9 124.5 L1644.4 122.9 L1644.3 123.2 L1644.6 121.2 L1644.7 119.2 L1644.8 121.7 L1645.0 122.1 L1645.2 124.0 L1645.8 125.9 L1645.8 125.4 L1645.6 126.6 L1646.1 128.2 L1646.1 132.1 L1646.5 133.0 L1646.9 130.7 L1647.8 129.7 L1648.2 127.5 L1648.7 128.8 L1648.6 131.6 L1649.4 132.2 L1649.2 134.4 L1649.8 136.1 L1649.9 137.4 L1650.3 138.1 L1650.3 139.8 L1650.3 140.5 L1650.8 142.5 L1651.0 142.6 L1651.0 145.9 L1651.2 146.0 L1651.5 147.9 L1652.4 145.4 L1653.0 145.5 L1653.3 143.5 L1653.5 144.9 L1653.8 147.5 L1654.7 147.1 L1655.1 150.7 L1655.3 151.5 L1657.3 151.0" fill="none" stroke="#0000ff" stroke-width="3.1" stroke-linejoin="miter" stroke-miterlimit="2.5" stroke-linecap="butt"/>
<path d="M125.5 712.7 L125.4 710.6 L125.4 710.1 L125.7 708.2 L125.8 705.2 L125.9 703.7 L125.8 702.2 L126.3 701.8 L126.0 699.3 L126.3 699.1 L127.1 699.0 L128.2 696.1 L128.8 694.6 L129.9 695.0 L131.3 692.2 L132.0 692.8 L132.7 696.1 L133.8 696.5 L134.0 695.4 L134.2 693.7 L134.7 690.8 L135.2 691.2 L135.6 688.7 L135.8 687.7 L136.3 686.8 L136.9 688.3 L137.9 689.1 L138.8 690.6 L139.5 689.6 L140.2 689.1 L141.3 686.3 L142.3 687.8 L143.8 687.7 L144.5 684.7 L145.1 685.3 L145.5 684.1 L146.3 681.6 L147.6 680.4 L148.8 678.9 L149.9 678.7 L150.5 676.3 L151.3 674.6 L152.2 677.0 L153.1 679.1 L153.8 678.7 L155.1 677.9 L156.3 677.1 L156.7 678.8 L157.3 679.0 L157.9 682.2 L158.8 682.4 L159.4 680.9 L159.5 678.5 L160.1 678.5 L160.4 677.9 L160.5 674.8 L161.2 673.7 L161.3 673.2 L161.6 670.1 L162.1 668.8 L162.8 668.1 L163.0 665.9 L163.8 665.0 L165.1 666.0 L166.3 668.2 L167.1 667.0 L168.1 665.5 L168.8 663.4 L170.2 666.3 L171.3 666.8 L172.5 668.5 L173.8 668.8 L175.0 668.5 L175.7 669.3 L177.1 671.1 L178.5 671.3 L180.1 672.6 L180.0 670.1 L180.3 668.9 L180.8 667.2 L180.6 667.4 L180.9 664.8 L180.9 663.6 L181.6 663.5 L181.5 660.9 L181.5 658.2 L181.7 657.4 L182.1 656.8 L183.0 654.1 L184.6 654.4 L185.0 652.7 L185.5 651.5 L186.7 650.2 L187.1 649.3 L187.9 648.2 L188.9 646.0 L190.1 645.5 L190.9 644.0 L191.2 642.1 L192.2 642.3 L192.6 640.5 L193.6 642.3 L194.1 643.3 L195.1 643.9 L195.4 641.9 L196.2 639.3 L197.1 638.5 L197.6 638.2 L199.1 636.8 L200.1 637.0 L200.6 636.5 L201.1 633.0 L201.7 631.7 L202.7 631.7 L203.1 630.5 L203.8 631.3 L204.1 633.5 L205.2 634.3 L205.6 635.5 L206.8 635.2 L208.1 633.5 L208.8 636.0 L210.0 637.3 L210.6 637.5 L211.5 638.9 L211.6 641.4 L212.3 641.2 L213.1 644.4 L214.0 643.5 L215.6 642.4 L216.3 640.3 L217.6 640.9 L218.8 642.2 L220.4 641.8 L221.4 644.1 L221.9 642.4 L222.1 640.6 L222.0 640.3 L222.3 637.0 L222.8 635.4 L223.0 634.0 L223.5 632.1 L223.6 631.2 L223.9 630.2 L224.4 630.1 L225.1 628.9 L225.7 626.5 L226.4 624.5 L227.4 624.3 L228.9 623.3 L229.7 623.5 L231.2 621.3 L232.1 620.2 L233.4 619.0 L234.6 618.9 L235.6 619.7 L237.1 618.9 L237.3 619.7 L237.8 622.9 L238.3 623.9 L238.5 626.5 L238.9 627.2 L239.4 628.5 L239.6 630.1 L240.6 629.4 L241.7 629.8 L242.6 628.1 L243.7 628.3 L245.1 626.4 L246.0 626.1 L246.1 622.1 L246.7 621.5 L247.6 619.8 L249.0 619.4 L250.1 621.7 L250.8 621.3 L251.9 619.5 L252.6 617.2 L253.4 617.2 L253.9 613.8 L254.1 612.8 L254.8 613.1 L255.1 609.7 L256.4 609.1 L257.5 607.9 L258.9 607.4 L259.2 609.5 L260.1 610.3 L260.7 609.9 L261.4 612.7 L262.0 613.9 L263.2 616.6 L263.9 616.9 L264.4 613.9 L265.3 612.5 L265.5 611.9 L266.4 611.2 L267.8 611.3 L268.9 608.5 L269.7 606.3 L270.0 606.0 L270.1 603.1 L270.9 603.4 L271.4 600.8 L272.7 602.0 L273.9 600.4 L275.0 600.1 L275.8 601.3 L276.4 603.8 L278.1 603.4 L279.7 604.3 L280.1 601.9 L280.8 601.4 L281.3 598.9 L282.2 598.3 L283.6 597.3 L285.2 597.3 L286.3 599.6 L287.7 600.1 L288.2 600.7 L288.8 601.8 L289.7 603.3 L290.2 606.4 L290.5 604.0 L290.6 604.8 L291.2 603.0 L291.8 600.6 L292.0 598.9 L292.6 598.3 L292.7 596.1 L293.6 596.1 L294.3 594.2 L295.2 592.4 L295.6 592.8 L296.6 594.4 L296.8 596.5 L297.7 598.3 L298.9 601.1 L299.5 601.8 L300.7 602.3 L301.3 600.5 L301.9 598.6 L302.9 597.4 L303.3 598.0 L303.9 594.8 L305.1 595.2 L306.4 592.4 L307.6 591.7 L308.9 593.8 L310.0 593.8 L311.4 593.8 L311.7 590.7 L312.1 589.4 L312.2 587.6 L312.7 586.8 L313.2 586.0 L313.7 584.9 L313.9 582.8 L314.2 582.3 L314.9 579.2 L315.2 577.2 L315.1 577.3 L316.0 576.4 L316.2 574.4 L316.4 572.9 L317.3 570.2 L318.3 570.1 L318.9 569.2 L319.4 568.3 L319.9 567.1 L320.0 565.0 L320.4 561.6 L320.8 561.1 L321.5 560.4 L322.0 558.7 L322.6 557.4 L322.7 555.5 L323.6 554.9 L324.0 552.5 L324.9 551.4 L325.8 548.7 L326.5 548.5 L326.5 549.1 L326.7 552.6 L327.4 554.2 L327.3 555.0 L327.7 556.5 L327.8 559.0 L327.7 560.2 L328.2 560.9 L328.4 562.1 L328.4 563.8 L328.2 564.5 L328.6 566.9 L328.7 569.7 L328.7 570.0 L328.7 572.1 L329.0 572.7 L329.2 574.5 L328.7 578.2 L329.2 578.4 L329.1 581.5 L329.0 580.9 L329.1 584.5 L329.1 585.0 L329.7 586.4 L329.7 586.8 L329.8 589.5 L329.5 591.6 L329.7 593.0 L330.0 590.9 L330.9 587.7 L331.5 587.5 L331.3 588.5 L331.5 590.2 L331.5 593.2 L332.0 594.5 L332.2 594.1 L332.3 597.4 L332.1 597.7 L332.5 599.6 L332.2 601.7 L332.3 602.8 L332.3 603.2 L332.5 607.1 L332.7 608.1 L332.7 605.3 L332.8 604.5 L333.3 602.6 L333.4 602.6 L333.5 600.3 L333.4 599.6 L333.3 597.4 L333.6 595.9 L333.9 594.4 L333.6 591.5 L333.8 591.9 L334.0 589.0 L334.4 586.9 L334.2 587.4 L334.4 584.9 L334.5 583.0 L334.7 580.9 L335.1 581.5 L335.9 585.0 L336.5 584.7 L337.1 584.8 L337.0 581.9 L337.3 579.6 L337.6 578.6 L338.2 577.2 L338.9 575.6 L339.7 576.2 L340.2 573.7 L340.4 575.1 L340.4 576.5 L340.5 577.1 L340.6 581.4 L341.1 581.5 L341.0 584.1 L341.1 583.9 L341.4 585.8 L341.8 589.0 L341.5 590.3 L342.0 589.3 L342.1 593.5 L342.2 593.9 L342.6 590.9 L343.3 592.2 L343.8 590.5 L343.7 587.2 L344.3 585.5 L344.7 585.3 L345.7 585.1 L346.6 583.0 L347.2 581.3 L348.2 582.7 L349.7 584.2 L350.8 584.3 L351.3 586.8 L352.2 587.1 L352.5 588.4 L352.5 591.3 L352.9 591.1 L353.1 594.2 L353.4 594.7 L353.5 595.7 L354.1 598.6 L354.3 600.7 L354.1 601.8 L354.8 602.7 L354.7 605.3 L354.8 603.1 L355.6 602.2 L355.7 600.6 L356.4 599.9 L356.2 597.1 L356.8 596.0 L357.2 595.3 L358.0 595.4 L358.5 598.3 L359.4 597.9 L359.7 599.9 L360.1 599.5 L360.9 596.2 L361.5 595.0 L361.6 594.1 L362.2 592.2 L363.2 591.1 L363.7 591.4 L364.7 588.7 L365.7 586.7 L365.7 585.2 L366.6 583.7 L367.2 584.3 L367.9 586.5 L368.5 588.3 L368.6 587.8 L369.4 591.1 L369.7 590.8 L371.2 592.4 L372.8 592.4 L373.8 591.4 L375.3 590.7 L376.2 589.8 L377.0 591.0 L378.3 589.4 L378.8 586.4 L379.7 586.7 L379.9 583.9 L380.8 582.5 L381.6 583.4 L381.9 584.1 L382.4 587.5 L383.3 587.5 L384.7 587.9 L385.8 585.8 L385.8 586.4 L386.3 590.5 L387.0 591.4 L387.0 591.7 L387.5 595.0 L387.8 594.8 L387.8 597.2 L387.8 597.3 L388.6 600.1 L388.7 601.2 L388.5 600.8 L389.1 603.6 L389.0 605.6 L389.2 603.1 L389.7 601.7 L389.9 601.5 L390.6 599.6 L391.0 598.0 L391.1 595.8 L391.5 593.6 L392.9 592.8 L394.0 592.1 L395.4 592.9 L396.5 594.8 L396.6 595.2 L397.1 598.1 L397.8 600.8 L397.8 602.3 L398.1 601.0 L398.8 603.7 L399.0 605.0 L399.3 605.8 L399.7 608.5 L400.1 610.4 L399.9 611.7 L400.3 613.8 L400.6 614.5 L400.8 616.5 L401.1 616.6 L401.5 618.4 L402.0 621.5 L402.3 621.2 L402.8 624.7 L403.4 623.9 L403.9 626.6 L404.0 627.1 L404.7 626.0 L405.3 625.6 L405.4 621.7 L405.8 620.5 L406.5 620.7 L407.4 619.1 L408.0 617.2 L408.3 616.2 L409.0 615.4 L409.6 617.7 L410.8 617.9 L411.5 618.5 L412.0 617.2 L412.6 615.5 L413.5 615.4 L414.0 613.5 L415.2 613.0 L416.5 615.3 L416.9 612.7 L417.6 611.3 L417.5 610.9 L418.2 608.1 L418.7 607.9 L419.0 605.8 L420.4 604.7 L421.6 605.0 L422.1 606.0 L422.7 609.6 L423.3 610.0 L424.1 611.2 L425.6 612.4 L426.6 611.2 L426.9 612.0 L426.6 613.5 L427.1 617.1 L427.3 618.4 L427.5 620.1 L427.4 619.5 L428.0 622.2 L427.9 624.8 L428.3 625.3 L428.6 626.2 L428.8 627.0 L429.6 629.5 L429.6 629.8 L430.3 633.3 L430.3 633.5 L430.9 631.2 L430.9 632.2 L431.4 627.9 L431.7 627.4 L431.9 626.6 L432.2 623.7 L432.2 622.3 L432.7 622.7 L432.8 619.7 L433.2 617.8 L433.6 617.2 L433.9 614.6 L434.7 614.9 L434.9 611.4 L435.3 611.7 L436.5 609.3 L437.3 609.6 L437.5 611.9 L437.6 613.5 L437.9 614.4 L438.1 615.9 L438.2 617.4 L438.4 617.7 L438.4 620.6 L438.9 622.9 L438.7 623.5 L439.1 625.1 L439.2 625.4 L439.5 627.8 L440.1 629.2 L440.6 629.4 L441.0 631.0 L441.2 634.5 L441.6 634.6 L442.7 633.9 L444.1 633.2 L444.6 630.0 L444.8 631.0 L444.8 628.9 L445.3 627.8 L445.9 626.2 L446.1 622.2 L446.0 623.0 L446.6 619.9 L446.9 619.4 L447.4 618.3 L447.9 616.5 L448.8 614.1 L449.1 612.2 L450.3 612.5 L451.6 613.6 L452.0 614.0 L453.1 616.0 L453.7 619.1 L454.1 619.7 L454.2 622.5 L454.8 623.3 L455.2 624.4 L455.4 626.5 L455.4 629.1 L456.0 631.0 L456.5 630.7 L456.6 632.3 L456.9 635.5 L457.2 635.1 L457.1 636.7 L457.3 639.1 L457.7 640.7 L458.4 641.6 L458.3 642.7 L458.4 644.6 L458.3 644.1 L458.8 646.0 L458.9 648.3 L458.8 651.2 L459.2 650.7 L459.0 651.5 L459.2 654.0 L459.4 655.5 L459.8 657.7 L459.8 658.5 L460.1 657.7 L460.6 654.6 L460.4 653.3 L460.9 651.2 L461.3 652.0 L461.2 648.9 L461.6 647.0 L461.9 649.5 L462.2 650.0 L462.6 651.7 L462.4 654.0 L462.6 656.0 L463.0 656.3 L463.3 657.3 L463.8 657.9 L463.9 659.3 L463.9 663.7 L464.4 663.0 L464.7 665.5 L464.6 668.0 L465.0 668.0 L465.3 669.6 L465.7 672.8 L465.5 673.7 L466.1 675.6 L466.3 675.9 L466.2 677.3 L466.6 678.4 L468.3 679.8 L468.4 677.2 L468.8 677.8 L468.9 676.6 L469.0 673.3 L469.3 672.3 L469.1 671.0 L469.7 669.8 L469.8 667.0 L469.6 664.8 L470.0 664.0 L470.2 664.6 L470.4 661.2 L470.4 659.9 L471.0 657.7 L471.2 657.3 L471.7 655.8 L472.0 653.6 L472.4 652.7 L472.6 650.3 L472.9 649.0 L473.3 649.6 L473.9 651.7 L474.9 653.1 L474.7 653.1 L475.5 654.5 L475.2 656.7 L475.3 657.2 L475.8 660.7 L476.0 662.2 L476.1 661.8 L476.4 664.2 L476.7 667.1 L476.6 667.1 L477.3 667.2 L477.2 665.9 L477.7 662.1 L478.4 660.8 L478.8 664.0 L479.1 664.9 L479.0 666.5 L479.1 666.4 L479.4 670.0 L479.8 670.2 L480.0 670.9 L480.4 673.6 L480.6 673.1 L481.3 670.4 L481.6 669.5 L481.4 668.4 L482.0 666.3 L482.4 665.5 L482.9 663.2 L483.0 662.3 L483.4 661.9 L483.8 660.3 L484.3 656.4 L484.9 656.7 L485.4 656.6 L486.6 653.9 L486.9 655.4 L486.9 656.0 L487.2 658.0 L487.4 659.2 L487.1 660.8 L487.4 663.6 L487.6 663.3 L487.8 664.8 L487.9 668.1 L487.8 669.5 L487.9 670.3 L487.9 673.3 L488.0 674.8 L488.4 674.8 L489.1 676.0 L489.3 678.3 L489.7 681.0 L490.4 681.4 L490.9 680.0 L491.3 679.2 L491.5 676.5 L492.2 674.4 L492.4 674.1 L492.4 676.2 L493.0 676.9 L492.9 679.0 L493.6 680.2 L493.4 681.2 L494.0 683.0 L494.1 685.6 L494.2 685.6 L494.5 687.3 L494.7 689.5 L494.9 690.4 L495.5 693.7 L495.9 692.6 L495.9 694.7 L496.3 696.3 L496.3 699.0 L496.1 699.4 L496.2 701.5 L496.5 701.7 L496.6 702.6 L496.9 706.4 L497.0 707.0 L496.9 708.4 L497.2 710.3 L497.4 711.7 L497.6 711.1 L498.0 708.5 L497.9 706.5 L498.5 705.9 L498.6 704.4 L498.8 703.1 L498.9 700.9 L499.1 698.7 L500.1 699.3 L501.6 698.8 L501.9 698.3 L501.7 696.4 L501.9 694.3 L502.0 693.4 L502.5 692.1 L502.4 689.1 L502.4 689.4 L502.8 687.1 L502.7 684.2 L502.9 683.1 L502.9 683.2 L503.0 681.3 L503.6 680.0 L504.0 679.0 L504.5 677.4 L504.6 675.6 L504.9 675.4 L505.4 672.9 L506.8 671.1 L507.9 669.7 L508.3 670.1 L508.8 665.8 L509.1 665.3 L509.8 663.9 L510.4 662.9 L511.5 663.5 L512.9 664.8 L513.5 664.4 L513.4 662.4 L513.9 661.8 L514.1 658.6 L514.9 658.8 L515.0 657.0 L515.4 655.2 L516.3 652.7 L516.7 651.6 L517.5 651.4 L517.9 648.8 L518.2 649.8 L518.7 650.9 L519.0 653.1 L519.1 654.4 L519.4 656.0 L519.5 657.3 L520.0 660.5 L520.4 661.1 L520.7 659.2 L521.2 658.0 L521.4 657.0 L522.0 656.2 L522.4 652.0 L522.7 653.0 L522.9 649.7 L523.6 649.9 L523.9 646.2 L524.9 647.7 L525.4 644.8 L525.8 642.7 L526.8 641.8 L527.1 640.9 L527.9 640.6 L529.0 642.2 L530.4 643.1 L531.8 642.3 L532.9 641.6 L533.4 644.0 L533.4 645.3 L533.9 646.3 L534.2 647.9 L534.6 649.8 L534.9 649.8 L535.0 647.8 L535.3 647.0 L535.6 645.3 L536.2 643.8 L536.7 642.4 L537.0 639.3 L537.1 639.1 L537.4 637.8 L538.0 637.4 L538.9 634.9 L539.4 632.6 L539.9 632.8 L540.3 632.8 L540.9 636.4 L541.3 636.9 L541.3 639.1 L541.4 641.8 L542.1 642.9 L542.4 643.7 L543.1 643.7 L543.9 641.3 L544.5 640.9 L545.4 638.8 L545.9 637.2 L546.1 636.9 L546.6 635.5 L547.0 633.0 L547.8 631.6 L547.9 630.3 L548.7 629.7 L549.5 627.1 L550.4 626.5 L551.9 626.3 L553.1 624.1 L554.2 625.6 L555.2 624.0 L556.7 622.4 L557.8 622.4 L559.3 626.4 L560.4 626.5 L561.7 626.0 L562.5 624.2 L563.4 622.8 L563.8 624.8 L563.8 626.4 L564.3 627.9 L564.3 629.8 L564.6 629.7 L565.4 633.1 L565.4 634.1 L565.8 635.0 L565.8 637.9 L565.8 637.8 L566.0 639.9 L566.4 641.5 L566.2 644.5 L566.3 645.0 L567.0 645.2 L567.2 648.2 L566.8 649.3 L567.3 650.7 L567.4 653.2 L568.1 652.5 L568.5 649.2 L569.2 648.4 L569.9 646.0 L570.3 646.5 L571.0 650.1 L571.6 652.5 L572.5 653.1 L573.7 651.5 L575.5 652.9 L576.6 653.1 L577.2 654.2 L578.5 656.7 L579.0 655.6 L578.8 654.2 L579.4 652.5 L579.9 650.5 L580.2 648.5 L579.9 648.5 L580.5 645.8 L581.0 645.3 L581.0 642.0 L581.2 642.4 L581.7 641.2 L581.9 637.2 L582.3 637.2 L582.4 636.0 L583.0 634.2 L583.3 635.0 L583.5 637.3 L584.0 638.1 L584.2 641.3 L584.2 641.7 L584.9 641.7 L585.1 645.2 L585.3 645.6 L585.5 648.2 L585.7 647.1 L585.8 644.1 L586.0 644.3 L586.3 642.2 L586.7 641.3 L586.4 638.0 L586.8 636.4 L587.3 635.9 L587.0 635.3 L587.5 633.0 L588.9 632.9 L590.0 631.4 L591.4 630.1 L592.5 630.5 L593.4 629.1 L593.5 626.6 L594.6 625.6 L595.0 623.5 L595.9 626.2 L596.3 626.2 L596.9 629.1 L597.5 629.8 L599.2 629.4 L600.5 630.5 L601.9 630.0 L603.8 630.5 L605.2 631.6 L607.0 631.5 L607.5 634.1 L607.6 634.4 L607.7 636.0 L608.0 636.3 L608.4 639.3 L608.8 640.2 L609.0 641.4 L608.9 642.2 L609.4 646.3 L609.7 645.2 L609.7 648.8 L610.0 649.8 L610.0 651.2 L610.5 652.1 L610.9 655.7 L610.9 655.8 L611.3 656.6 L611.5 658.7 L611.7 661.3 L611.5 663.4 L611.7 662.2 L612.0 664.8 L612.0 662.5 L612.8 662.4 L613.2 660.7 L612.9 660.6 L613.4 658.2 L613.8 656.0 L614.2 659.5 L615.0 660.0 L615.5 662.0 L615.7 663.4 L615.8 664.1 L616.5 667.1 L616.1 666.3 L616.5 667.8 L617.1 671.2 L617.0 671.8 L617.4 668.5 L617.6 668.9 L617.4 668.2 L618.1 664.1 L618.2 664.9 L618.4 661.5 L618.3 661.3 L618.8 658.7 L619.2 659.8 L619.8 662.0 L620.4 662.8 L621.3 665.4 L622.0 662.2 L622.3 661.1 L623.0 661.8 L623.8 659.4 L624.4 658.6 L624.6 654.9 L625.3 653.3 L625.5 654.1 L625.8 651.5 L626.3 650.6 L626.8 648.6 L627.0 646.2 L627.7 644.5 L627.7 644.5 L628.2 644.0 L628.8 641.3 L629.1 638.9 L629.5 639.5 L630.0 636.0 L630.7 635.0 L631.2 633.0 L631.3 632.1 L632.6 633.8 L633.8 632.3 L634.5 633.8 L635.3 634.4 L636.3 636.2 L637.4 639.1 L637.7 640.2 L638.8 639.9 L638.8 642.8 L639.1 643.8 L639.2 646.0 L639.6 647.0 L639.6 646.5 L640.2 650.0 L640.4 649.6 L640.4 653.2 L640.6 653.7 L641.2 654.0 L641.3 656.7 L642.3 654.9 L643.8 654.7 L644.7 654.2 L645.6 652.4 L645.8 650.3 L646.1 650.3 L646.0 648.4 L646.5 645.4 L646.7 644.9 L646.9 642.3 L647.2 641.7 L647.2 641.8 L647.6 637.7 L647.6 637.6 L648.0 637.5 L649.0 634.2 L649.2 633.5 L650.1 632.5 L650.6 631.7 L651.7 630.2 L652.6 628.9 L653.5 626.5 L654.5 627.3 L655.1 624.9 L655.8 624.5 L656.5 623.4 L657.6 621.8 L658.0 621.3 L658.4 618.5 L658.5 617.1 L659.1 617.0 L659.4 613.1 L660.1 612.3 L660.8 614.4 L662.2 613.1 L663.1 614.8 L664.8 614.3 L666.3 616.5 L668.1 617.1 L669.6 617.2 L671.0 617.5 L672.1 614.6 L672.9 615.3 L673.6 617.6 L674.6 618.4 L675.0 617.4 L676.1 616.7 L676.5 614.1 L677.1 614.2 L677.6 611.3 L677.6 612.1 L678.1 609.1 L678.1 607.8 L678.6 607.6 L678.6 604.2 L679.0 602.7 L679.5 603.1 L679.6 600.6 L680.6 599.8 L681.3 596.3 L682.1 596.9 L682.9 598.9 L684.2 598.6 L685.1 600.0 L685.8 599.0 L687.1 597.4 L688.1 595.8 L689.6 595.9 L690.6 597.9 L691.5 597.7 L692.5 596.0 L693.1 594.3 L694.4 593.1 L695.6 594.8 L696.1 594.4 L697.2 592.7 L697.6 591.5 L698.1 591.9 L698.9 593.7 L699.0 594.5 L699.6 596.5 L699.9 596.8 L700.0 600.8 L700.2 600.3 L700.2 602.6 L700.4 602.9 L700.7 604.9 L700.8 606.4 L701.2 607.4 L701.4 610.5 L702.3 609.2 L703.1 607.8 L703.5 608.2 L703.6 610.4 L703.7 612.3 L703.8 612.8 L704.2 613.9 L704.5 615.9 L704.6 617.1 L705.1 615.6 L705.1 613.7 L705.1 612.9 L705.4 612.8 L705.5 610.6 L706.2 607.0 L705.9 606.5 L706.4 605.0 L707.4 603.7 L708.1 602.2 L708.9 600.5 L708.9 600.8 L709.5 598.4 L710.1 597.8 L710.8 599.2 L711.1 601.1 L711.8 602.1 L712.1 602.9 L712.9 603.8 L713.5 605.8 L713.9 605.9 L713.7 609.0 L714.2 610.2 L714.6 611.0 L714.4 612.7 L714.8 614.9 L714.6 615.9 L714.8 616.9 L714.9 619.3 L715.1 620.0 L715.2 620.1 L715.2 621.2 L715.6 623.9 L715.4 624.6 L715.4 625.1 L715.6 626.5 L715.4 629.4 L715.6 631.9 L716.0 633.2 L715.7 635.0 L716.2 635.0 L716.0 636.1 L716.5 636.8 L717.2 639.5 L717.4 641.8 L717.9 643.9 L718.3 643.8 L718.3 645.9 L718.5 646.5 L718.8 648.1 L718.6 650.6 L718.6 650.5 L718.8 653.0 L719.1 655.1 L718.9 657.8 L719.0 657.9 L719.5 656.8 L719.4 654.4 L719.4 654.2 L720.0 651.1 L720.0 651.1 L720.4 647.4 L720.5 647.5 L720.7 646.8 L720.7 643.7 L720.7 644.4 L720.9 647.0 L720.8 647.6 L721.2 650.6 L721.5 651.3 L721.0 653.8 L721.6 654.7 L721.6 656.0 L721.5 656.6 L721.8 660.7 L721.6 661.8 L721.9 662.9 L721.8 664.6 L722.0 666.3 L722.1 668.9 L721.9 668.6 L722.4 669.4 L722.0 670.7 L722.4 672.4 L722.5 675.9 L722.2 677.3 L722.7 676.4 L722.7 678.9 L722.5 680.5 L722.5 681.7 L722.8 685.1 L722.8 684.9 L722.6 686.6 L723.0 689.6 L723.0 691.3 L723.1 691.5 L722.9 692.2 L723.4 695.7 L723.5 695.4 L723.2 698.4 L723.7 699.2 L723.7 700.4 L723.5 701.2 L723.4 704.1 L723.9 704.4 L723.9 706.4 L723.6 707.2 L723.7 709.0 L723.8 712.4 L723.8 712.7 L724.0 714.1 L723.8 715.2 L724.4 715.9 L724.1 718.0 L724.3 719.6 L724.2 720.9 L724.5 721.7 L724.3 724.2 L724.3 726.8 L724.8 727.1 L724.6 728.2 L724.9 731.9 L724.7 731.4 L724.8 734.6 L724.7 736.9 L725.0 738.4 L725.0 737.8 L725.2 739.0 L725.4 741.0 L725.1 743.5 L725.3 744.0 L725.5 745.5 L725.4 746.8 L725.3 749.6 L725.5 751.3 L725.6 752.2 L725.5 754.3 L725.4 755.3 L725.9 756.2 L725.8 758.2 L725.7 759.1 L725.7 761.4 L725.5 762.8 L725.7 764.4 L726.0 765.4 L725.8 767.4 L726.1 770.8 L726.2 772.3 L725.9 771.6 L726.1 772.8 L726.0 776.3 L726.2 777.1 L726.0 779.5 L726.1 781.5 L726.2 782.2 L726.1 782.6 L726.6 786.4 L726.3 787.4 L726.5 786.9 L726.6 789.0 L726.6 791.1 L727.1 792.5 L727.3 793.7 L727.3 796.4 L727.3 797.1 L727.4 799.9 L727.8 799.5 L727.5 803.4 L728.0 802.7 L727.9 805.8 L727.8 805.9 L728.3 807.6 L728.4 809.5 L728.0 812.6 L728.3 814.0 L728.7 815.7 L728.3 815.9 L728.6 819.4 L728.9 820.9 L729.0 821.9 L728.9 823.1 L729.1 822.9 L729.1 825.6 L729.0 828.6 L729.0 829.7 L729.6 831.1 L729.5 831.7 L729.9 830.6 L729.7 829.3 L729.5 826.6 L729.8 825.4 L729.8 823.4 L730.2 821.6 L730.0 821.7 L730.2 818.8 L730.6 817.9 L730.3 816.1 L730.3 816.1 L730.5 813.6 L730.7 812.8 L730.5 811.1 L730.9 809.3 L731.1 807.1 L731.0 806.1 L730.9 803.0 L730.9 802.2 L731.0 799.7 L731.3 798.6 L731.0 797.8 L731.3 795.9 L731.1 794.5 L731.1 792.1 L731.6 793.3 L731.6 789.0 L731.5 790.1 L731.5 786.0 L731.4 785.4 L731.3 784.2 L731.8 783.8 L732.0 781.4 L731.6 779.9 L731.6 777.1 L732.0 774.9 L731.9 775.2 L731.7 772.7 L732.2 772.2 L731.8 771.6 L732.2 769.6 L732.0 768.0 L732.3 764.8 L732.1 763.7 L732.1 762.9 L732.1 762.2 L732.3 758.4 L732.5 758.6 L732.6 757.4 L732.4 756.6 L732.2 753.7 L732.5 751.6 L732.6 749.5 L732.5 748.2 L732.3 749.1 L732.6 745.6 L732.6 747.5 L732.6 749.9 L733.3 751.8 L733.2 753.1 L733.5 753.1 L733.5 755.4 L733.6 756.3 L734.0 758.8 L733.8 761.1 L734.1 760.8 L734.3 763.0 L734.3 764.0 L734.5 764.7 L735.0 767.4 L735.1 770.3 L735.3 772.0 L735.3 772.5 L735.4 772.4 L735.3 775.5 L735.8 777.0 L735.7 778.3 L735.7 777.2 L736.1 774.7 L735.8 772.2 L736.1 772.6 L736.3 769.2 L736.4 768.5 L736.5 767.1 L736.5 766.0 L736.5 763.1 L736.8 763.8 L737.1 759.9 L736.7 758.8 L736.9 758.1 L737.2 756.4 L737.3 754.0 L737.4 752.8 L737.6 751.8 L737.6 749.0 L737.8 747.5 L738.0 748.4 L738.3 746.4 L738.6 743.1 L738.2 743.4 L738.5 742.2 L739.0 738.7 L739.0 738.4 L739.0 736.3 L739.1 736.0 L739.6 732.9 L740.1 730.7 L740.3 729.7 L740.7 729.7 L741.1 728.7 L741.4 726.4 L741.9 727.7 L741.6 730.1 L741.9 731.2 L742.3 732.7 L742.2 734.4 L742.7 734.5 L742.9 737.7 L743.1 736.5 L743.2 738.1 L743.2 741.7 L743.7 743.6 L743.8 743.5 L744.0 741.3 L744.3 741.6 L744.2 737.9 L744.9 736.3 L745.0 734.9 L745.2 734.0 L745.5 733.3 L746.2 730.1 L746.5 729.7 L747.1 728.9 L747.1 724.9 L747.6 724.4 L748.0 723.3 L747.7 722.7 L748.3 719.3 L748.2 719.3 L748.3 717.1 L748.6 716.7 L748.9 715.3 L748.9 711.4 L749.4 710.3 L749.1 709.9 L749.5 707.7 L749.6 709.2 L749.6 711.4 L749.5 712.2 L749.8 714.5 L750.0 714.3 L749.9 718.7 L750.4 717.7 L750.2 719.6 L750.3 721.9 L750.6 723.6 L751.0 726.3 L750.8 725.0 L751.1 728.8 L751.0 729.8 L751.5 728.5 L751.8 726.2 L752.6 726.1 L752.9 725.1 L753.3 722.2 L753.9 721.7 L754.3 719.5 L754.8 717.6 L755.0 716.4 L755.7 715.0 L756.2 716.3 L756.0 718.3 L756.2 719.2 L756.3 721.1 L757.0 721.7 L756.9 724.6 L757.1 726.5 L757.1 726.9 L757.6 729.3 L757.9 727.3 L758.3 726.5 L758.5 724.3 L758.1 723.4 L758.6 720.6 L758.7 721.5 L759.0 719.2 L758.9 717.9 L759.6 715.2 L759.5 713.0 L759.6 710.7 L760.0 710.2 L760.3 709.7 L760.8 707.3 L761.7 706.5 L761.7 705.2 L762.4 703.6 L762.7 703.2 L763.1 699.1 L763.0 700.0 L763.2 696.3 L763.8 696.0 L764.1 694.8 L764.0 692.0 L764.3 691.7 L764.5 690.4 L764.6 689.0 L764.9 685.6 L765.2 684.1 L765.4 683.5 L765.4 682.8 L765.5 680.9 L766.0 680.0 L766.4 678.2 L766.3 675.1 L766.2 675.6 L766.2 672.2 L766.7 670.9 L766.8 669.2 L766.7 668.7 L766.8 667.7 L767.0 666.4 L767.1 663.9 L767.1 662.6 L767.4 662.0 L767.3 660.7 L767.9 659.2 L767.7 656.7 L768.2 655.4 L767.8 652.7 L768.4 652.2 L768.4 651.6 L768.5 650.7 L768.6 648.5 L769.0 645.6 L770.0 644.6 L770.1 645.2 L770.0 648.2 L770.2 650.8 L770.2 650.0 L770.7 653.2 L770.3 653.0 L770.5 656.4 L770.7 658.5 L770.7 659.0 L770.9 661.0 L771.3 661.0 L771.3 661.9 L771.3 663.3 L771.5 665.8 L771.4 667.1 L771.4 669.3 L771.8 671.9 L771.5 672.6 L771.6 673.0 L771.7 675.1 L772.1 675.9 L771.9 678.8 L771.9 681.4 L772.2 681.5 L772.6 678.8 L772.4 679.4 L772.9 677.4 L772.7 674.4 L773.2 673.4 L773.2 670.9 L773.3 670.6 L773.7 668.9 L773.8 666.2 L773.9 665.1 L773.9 664.4 L775.4 664.2 L776.4 667.0 L776.8 664.6 L778.0 662.8 L778.6 661.2 L778.9 661.0 L778.9 663.6 L779.5 663.3 L779.6 664.5 L780.1 668.4 L780.5 669.7 L780.3 668.6 L780.7 671.8 L780.7 670.4 L781.1 668.2 L781.3 666.4 L782.1 663.6 L782.3 662.8 L782.4 660.7 L782.7 659.7 L782.7 658.4 L782.9 657.7 L783.4 656.3 L783.5 652.9 L784.1 652.5 L783.9 650.6 L784.5 650.9 L784.3 648.6 L784.7 646.0 L785.3 647.0 L786.4 647.5 L787.2 650.1 L787.4 648.9 L787.9 645.8 L788.1 646.3 L788.5 644.5 L788.9 644.3 L788.9 641.7 L789.7 639.9 L790.9 638.7 L791.5 637.5 L792.6 638.6 L794.0 639.7 L794.2 640.2 L795.2 637.5 L795.5 634.9 L795.8 633.8 L796.5 632.3 L796.9 633.1 L797.1 636.6 L797.2 636.0 L797.4 638.4 L797.4 640.6 L797.5 643.5 L798.2 644.3 L798.2 645.2 L798.8 643.9 L798.8 641.2 L798.9 641.2 L799.1 639.5 L799.5 637.4 L799.6 636.3 L800.0 634.6 L800.2 632.3 L801.3 631.7 L802.7 630.6 L803.3 628.6 L803.7 627.2 L804.0 624.8 L804.7 625.4 L805.2 622.7 L806.7 623.4 L807.7 623.6 L808.7 624.2 L809.5 626.3 L810.2 628.0 L810.8 627.4 L810.9 623.4 L811.5 624.4 L811.4 620.8 L811.8 619.8 L812.5 618.6 L812.7 617.7 L814.0 616.9 L815.7 616.3 L816.0 619.4 L816.1 619.2 L816.5 621.8 L816.6 621.3 L816.7 623.5 L816.8 624.6 L817.1 626.4 L817.1 627.0 L817.3 630.1 L817.7 631.0 L817.9 630.4 L818.3 627.7 L818.6 627.6 L819.4 625.4 L819.5 622.5 L819.9 622.6 L820.2 620.0 L821.4 617.5 L822.7 617.5 L822.8 619.8 L823.2 620.5 L823.1 623.3 L823.4 623.5 L823.4 626.7 L823.9 628.4 L824.0 628.2 L823.8 629.6 L824.2 632.5 L824.4 633.4 L824.7 636.0 L824.7 635.8 L825.0 638.1 L825.5 639.2 L825.6 640.5 L825.9 643.4 L826.2 643.7 L826.5 645.6 L827.1 644.2 L827.2 641.9 L828.0 641.2 L828.7 640.0 L829.0 637.2 L829.1 635.4 L829.5 635.8 L830.2 632.1 L830.2 632.1 L830.9 631.1 L830.9 629.0 L831.5 627.9 L832.2 625.8 L832.9 626.0 L833.2 624.1 L834.0 621.2 L834.3 619.8 L835.0 619.5 L835.7 616.1 L835.9 617.3 L836.4 620.4 L836.7 620.8 L837.0 620.9 L837.6 624.8 L837.7 625.6 L838.8 625.0 L840.3 625.9 L840.8 625.3 L841.6 623.8 L842.3 622.7 L842.6 623.8 L842.8 624.9 L842.5 627.6 L842.9 628.5 L843.1 630.3 L843.1 631.7 L843.2 634.7 L843.7 636.0 L843.7 637.3 L843.8 639.9 L844.0 640.6 L844.3 640.3 L844.4 643.6 L844.8 645.8 L845.2 646.5 L845.8 648.2 L846.1 646.3 L846.2 644.5 L846.2 643.4 L846.7 640.4 L846.9 638.6 L846.6 637.2 L847.2 635.3 L847.2 636.3 L847.2 633.8 L847.7 633.0 L847.8 629.7 L848.0 627.3 L848.2 625.7 L847.9 624.9 L848.0 624.2 L848.0 622.6 L848.2 622.1 L848.2 620.4 L848.8 618.7 L848.3 616.0 L848.8 614.4 L848.8 612.4 L848.9 610.5 L849.0 610.4 L849.3 608.4 L849.6 605.8 L849.9 604.3 L850.1 605.4 L850.0 602.4 L850.5 600.3 L850.8 599.2 L850.8 597.1 L851.3 596.1 L851.4 594.9 L851.4 591.9 L852.2 590.9 L852.3 590.5 L852.8 587.8 L852.9 585.8 L853.0 587.1 L853.5 585.6 L853.6 581.5 L854.0 581.3 L855.8 582.3 L855.8 581.8 L856.1 580.3 L856.6 576.6 L856.8 575.1 L857.1 575.6 L857.0 573.1 L857.3 571.7 L857.8 570.3 L858.3 570.2 L858.7 572.2 L859.1 574.3 L859.8 574.7 L860.3 577.7 L861.2 578.6 L861.5 578.8 L861.5 576.3 L861.6 577.0 L862.1 574.3 L862.2 571.7 L862.4 570.3 L862.5 569.9 L862.7 567.4 L862.7 565.9 L863.3 564.6 L863.3 563.8 L863.6 563.8 L864.6 562.7 L865.3 560.4 L866.6 560.9 L867.8 561.0 L867.9 560.7 L868.2 557.8 L868.9 556.7 L869.4 555.0 L869.6 552.9 L870.0 552.0 L870.3 551.7 L870.3 553.5 L870.9 553.6 L870.8 557.4 L871.5 557.8 L871.6 559.9 L871.9 561.4 L871.9 563.3 L872.5 564.9 L872.8 565.0 L872.9 562.4 L873.5 562.9 L873.5 559.7 L873.7 558.3 L874.1 557.1 L874.8 557.9 L874.8 555.4 L875.1 553.5 L875.7 552.9 L875.9 551.3 L876.3 548.2 L876.5 548.0 L876.7 547.0 L877.3 545.3 L878.1 542.2 L878.4 542.2 L878.8 539.2 L879.0 539.3 L879.5 538.6 L879.8 536.9 L879.9 534.7 L880.4 533.9 L880.4 532.6 L880.8 530.6 L882.3 531.4 L883.3 532.1 L884.0 532.7 L884.5 529.3 L884.6 528.0 L885.3 527.5 L886.3 526.1 L887.3 526.8 L887.7 528.3 L888.0 528.8 L888.2 531.5 L888.5 533.3 L888.3 533.2 L889.0 535.3 L889.0 536.1 L889.5 538.1 L889.3 540.2 L889.6 540.9 L890.3 541.3 L890.5 543.7 L890.6 545.4 L890.9 546.2 L891.3 549.6 L891.6 549.8 L891.6 547.4 L892.0 547.7 L892.4 546.1 L892.6 543.0 L892.9 541.3 L892.8 540.2 L893.1 541.1 L893.6 537.4 L893.8 537.1 L893.8 535.0 L894.1 534.4 L894.7 532.3 L894.9 529.7 L895.0 528.1 L895.1 526.0 L895.6 527.3 L895.8 525.3 L896.0 522.4 L896.6 521.4 L897.1 520.9 L897.8 517.9 L898.2 518.0 L898.6 514.0 L899.1 513.7 L899.8 516.4 L900.8 516.8 L901.6 517.4 L902.0 519.2 L902.3 522.0 L902.9 522.0 L903.2 522.6 L903.4 526.1 L903.9 527.0 L904.1 529.3 L904.6 530.9 L904.8 530.3 L905.6 532.1 L905.5 535.8 L906.2 536.4 L906.6 537.0 L908.3 537.9 L909.8 539.0 L910.3 536.6 L910.4 535.1 L910.9 534.0 L911.1 533.1 L911.1 531.7 L911.6 531.0 L911.6 528.7 L912.1 525.6 L912.3 525.4 L913.5 524.7 L914.8 522.1 L915.3 524.1 L915.5 524.6 L915.5 526.1 L915.8 527.3 L916.5 529.8 L916.3 533.1 L917.0 532.7 L916.9 533.9 L917.3 536.2 L917.8 536.4 L918.4 538.5 L919.1 540.6 L919.3 537.9 L919.8 538.4 L920.2 536.8 L920.4 535.2 L921.0 531.9 L921.3 531.4 L921.6 530.3 L921.9 529.3 L922.7 526.7 L922.7 525.8 L923.1 524.6 L923.4 523.6 L924.1 521.7 L925.2 522.1 L926.6 523.1 L927.3 520.6 L928.3 518.7 L929.1 519.1 L929.7 517.8 L930.1 516.6 L931.1 513.5 L931.6 513.1 L932.5 514.2 L933.2 515.9 L934.1 516.8 L934.6 515.4 L935.5 512.8 L935.8 511.1 L936.6 510.5 L937.1 511.6 L937.8 513.5 L938.0 513.4 L938.5 514.7 L939.1 517.5 L939.5 517.0 L939.7 514.6 L939.9 513.1 L940.5 512.3 L940.5 510.7 L941.1 508.7 L941.5 506.6 L941.6 505.5 L942.0 507.2 L942.3 508.4 L942.4 508.4 L942.6 511.6 L942.5 511.7 L943.2 514.2 L943.0 514.7 L943.2 516.0 L943.9 518.9 L943.8 520.7 L944.1 521.5 L944.7 518.5 L944.6 517.8 L945.1 517.3 L945.5 514.8 L946.2 513.8 L946.6 512.9 L947.6 509.9 L948.1 508.9 L949.1 508.9 L949.6 507.0 L950.2 506.5 L950.8 505.9 L951.6 504.2 L952.1 503.2 L952.8 499.4 L953.1 497.9 L953.4 497.5 L954.1 496.4 L954.8 495.7 L955.4 493.5 L955.8 492.8 L956.6 491.7 L958.1 492.1 L959.1 490.6 L960.7 489.5 L961.6 489.5 L961.7 491.4 L962.2 492.9 L962.3 495.1 L962.4 495.5 L962.7 497.2 L963.3 498.1 L963.3 500.6 L963.7 501.1 L963.7 502.6 L964.1 505.1 L965.0 504.4 L965.6 503.3 L966.1 502.5 L966.6 500.3 L967.3 500.0 L968.5 501.1 L969.1 504.0 L970.2 505.4 L971.6 506.1 L972.1 506.7 L972.3 510.7 L972.7 509.3 L973.5 511.7 L973.7 514.5 L974.1 514.6 L974.6 512.3 L975.4 512.7 L976.3 511.8 L976.6 509.1 L977.1 510.3 L977.0 510.8 L977.6 513.7 L977.7 514.2 L978.4 515.2 L978.8 518.8 L978.8 521.2 L979.1 521.6 L980.0 519.4 L980.2 519.2 L980.8 515.1 L981.6 515.1 L982.6 515.9 L984.1 517.9 L984.6 516.9 L985.4 513.2 L985.4 513.1 L986.2 511.0 L986.6 510.5 L988.0 508.7 L989.1 507.2 L990.6 505.5 L991.7 504.9 L992.1 505.3 L992.3 506.8 L993.0 509.3 L993.4 511.3 L993.5 512.1 L994.2 514.1 L994.6 513.9 L995.3 516.5 L995.5 518.9 L996.3 520.2 L996.7 521.3 L997.3 518.8 L997.2 518.7 L998.2 516.1 L998.3 514.6 L998.9 514.9 L999.2 512.7 L999.3 511.8 L1000.3 508.4 L1000.1 509.1 L1000.7 505.3 L1001.1 506.5 L1001.7 504.0 L1002.4 503.5 L1002.8 501.9 L1003.2 498.0 L1004.2 497.8 L1005.7 497.0 L1006.7 499.0 L1008.1 498.5 L1009.2 499.6 L1009.2 501.6 L1009.9 504.1 L1009.6 506.0 L1010.1 507.4 L1010.3 508.9 L1010.6 509.9 L1010.5 512.1 L1011.0 511.4 L1011.2 513.7 L1011.6 514.5 L1011.7 517.0 L1012.3 517.0 L1012.3 514.3 L1012.8 513.3 L1013.4 511.2 L1014.0 511.7 L1013.9 514.6 L1014.4 514.9 L1014.8 518.8 L1014.8 518.1 L1015.3 520.3 L1015.4 522.1 L1016.3 524.4 L1016.4 526.5 L1017.1 526.0 L1017.9 529.0 L1019.2 530.3 L1020.4 531.2 L1021.1 529.5 L1021.9 528.6 L1022.5 527.3 L1022.9 525.5 L1023.4 524.6 L1023.8 520.8 L1024.0 521.8 L1024.2 520.5 L1024.7 519.2 L1024.9 517.1 L1025.4 514.8 L1026.0 513.0 L1026.7 510.7 L1027.4 511.8 L1027.9 509.3 L1029.6 510.2 L1030.9 510.6 L1032.4 510.2 L1034.2 508.5 L1035.2 507.3 L1036.7 506.0 L1038.2 506.8 L1039.2 504.8 L1041.0 506.5 L1042.5 506.7 L1042.9 508.6 L1043.5 508.0 L1043.8 510.1 L1044.1 511.7 L1044.3 515.0 L1045.0 515.1 L1045.3 517.0 L1045.5 519.5 L1046.0 521.0 L1046.0 522.7 L1046.4 522.0 L1046.5 525.6 L1047.3 525.3 L1047.5 528.1 L1047.7 528.0 L1048.2 531.0 L1048.5 532.7 L1048.5 532.6 L1049.0 533.4 L1049.2 536.0 L1049.7 534.1 L1049.7 533.8 L1050.0 532.3 L1050.0 531.0 L1050.1 527.6 L1050.5 526.0 L1050.6 524.9 L1051.3 524.5 L1051.1 523.6 L1051.3 522.3 L1051.7 519.6 L1052.9 520.7 L1054.2 522.8 L1054.5 523.9 L1054.9 524.4 L1055.0 526.7 L1055.2 527.3 L1055.4 529.4 L1055.5 532.6 L1055.3 532.6 L1056.0 533.8 L1056.0 535.9 L1056.4 535.3 L1056.6 533.8 L1056.9 530.7 L1057.5 531.7 L1058.0 529.0 L1058.1 530.6 L1058.2 530.6 L1058.5 534.5 L1058.9 536.4 L1059.0 537.3 L1059.3 539.0 L1059.7 539.3 L1060.0 540.8 L1060.4 539.0 L1060.5 537.6 L1060.6 537.5 L1060.9 534.3 L1061.3 533.3 L1061.6 532.6 L1061.7 531.7 L1062.4 529.6 L1062.5 527.2 L1063.3 524.9 L1064.1 523.9 L1065.0 524.0 L1066.3 521.9 L1068.0 522.5 L1068.3 522.8 L1068.8 524.9 L1069.4 525.0 L1070.0 527.5 L1070.3 527.3 L1070.3 523.1 L1070.8 523.6 L1071.3 522.4 L1071.0 520.8 L1071.5 519.5 L1071.6 515.8 L1072.0 515.5 L1072.0 515.8 L1072.8 517.5 L1072.9 519.7 L1073.0 520.2 L1073.1 522.5 L1073.4 525.2 L1073.8 525.8 L1074.6 529.0 L1075.5 528.4 L1075.8 528.9 L1075.7 531.9 L1076.3 533.3 L1076.2 535.0 L1076.7 536.4 L1076.6 538.4 L1077.3 540.4 L1077.5 541.7 L1077.5 542.4 L1077.7 545.2 L1078.2 544.7 L1078.3 548.1 L1078.6 547.5 L1079.0 549.7 L1079.5 550.9 L1079.8 550.6 L1079.9 549.7 L1079.9 547.4 L1080.3 546.7 L1080.7 543.8 L1080.9 543.8 L1081.2 542.4 L1081.5 538.6 L1081.9 537.1 L1081.6 536.4 L1082.0 535.6 L1082.6 535.8 L1083.3 537.1 L1083.8 538.2 L1083.9 536.9 L1084.1 536.7 L1084.6 534.4 L1085.1 532.4 L1085.1 531.6 L1085.4 528.6 L1085.8 529.2 L1086.3 525.9 L1086.5 527.9 L1086.4 530.5 L1086.7 530.1 L1087.0 532.7 L1087.5 533.7 L1087.7 535.9 L1087.5 538.4 L1087.8 539.8 L1088.0 539.5 L1088.1 539.8 L1088.6 535.7 L1089.3 535.0 L1089.3 535.3 L1089.9 532.8 L1090.0 531.7 L1090.2 533.3 L1090.2 533.3 L1090.6 536.5 L1091.0 538.6 L1090.8 540.6 L1091.4 539.6 L1091.1 542.6 L1091.3 544.6 L1091.6 544.8 L1092.0 547.3 L1092.0 548.3 L1092.4 551.1 L1092.8 551.9 L1092.7 554.4 L1093.4 555.0 L1093.7 557.3 L1094.2 557.2 L1094.1 560.6 L1094.5 561.2 L1094.7 564.3 L1095.5 564.3 L1095.4 567.3 L1095.9 568.5 L1096.5 569.9 L1096.5 569.9 L1097.0 572.2 L1096.8 573.4 L1097.2 574.5 L1097.0 576.8 L1097.7 578.8 L1097.4 580.3 L1097.5 582.2 L1097.6 582.1 L1097.8 583.1 L1097.7 585.1 L1098.1 589.0 L1098.1 590.1 L1098.2 591.0 L1098.0 593.5 L1098.1 594.4 L1098.5 594.4 L1098.6 596.9 L1098.6 599.2 L1098.3 598.7 L1098.8 601.2 L1098.8 602.3 L1098.7 599.7 L1099.2 598.4 L1099.1 596.3 L1099.6 595.5 L1099.3 596.1 L1100.0 591.9 L1099.7 592.9 L1100.1 589.4 L1100.2 587.7 L1100.2 586.6 L1100.5 584.6 L1100.7 585.3 L1101.3 586.8 L1101.4 590.1 L1102.0 591.8 L1102.2 591.9 L1102.5 593.5 L1102.7 593.6 L1102.5 589.4 L1102.8 589.7 L1102.8 588.2 L1103.2 586.9 L1103.2 583.3 L1103.4 582.0 L1103.5 582.3 L1103.2 579.0 L1103.6 578.7 L1103.5 575.6 L1103.5 575.3 L1103.7 573.9 L1103.9 571.2 L1104.2 570.5 L1104.3 567.4 L1104.1 566.4 L1104.5 566.1 L1104.7 564.5 L1104.5 562.2 L1105.3 560.8 L1105.6 559.4 L1106.6 558.0 L1107.0 558.0 L1107.9 559.5 L1108.2 561.0 L1109.1 560.8 L1109.5 562.0 L1109.7 561.3 L1110.3 558.0 L1110.9 556.7 L1111.0 557.3 L1111.1 553.6 L1111.7 552.9 L1112.1 551.1 L1112.7 553.2 L1113.0 554.6 L1113.8 554.5 L1114.0 556.2 L1114.4 557.2 L1114.4 558.5 L1114.9 560.7 L1115.0 563.0 L1115.6 563.5 L1115.6 565.6 L1115.9 567.0 L1116.9 568.1 L1117.2 569.1 L1118.1 571.9 L1118.7 573.8 L1119.8 573.7 L1120.6 574.8 L1121.7 573.2 L1122.6 574.2 L1122.5 575.2 L1122.6 576.6 L1122.7 579.8 L1123.3 579.3 L1123.0 580.4 L1123.2 581.7 L1123.7 584.6 L1123.5 585.1 L1123.8 587.9 L1123.9 589.0 L1124.0 589.7 L1124.1 593.8 L1124.6 593.2 L1124.9 596.7 L1125.0 597.1 L1124.8 599.1 L1125.2 600.2 L1125.0 602.6 L1125.7 602.6 L1125.6 604.6 L1125.8 604.6 L1126.0 601.5 L1126.7 600.7 L1126.9 598.3 L1126.8 597.4 L1127.2 597.3 L1127.6 594.7 L1128.3 593.3 L1128.6 593.1 L1129.2 588.9 L1129.6 589.0 L1129.9 591.6 L1130.0 591.4 L1129.7 594.3 L1129.9 594.5 L1130.0 596.0 L1130.0 596.8 L1130.2 600.7 L1130.5 601.4 L1130.2 603.2 L1130.7 605.3 L1130.7 607.0 L1130.9 607.8 L1130.9 607.8 L1131.1 609.7 L1131.0 610.5 L1131.2 612.6 L1131.3 614.1 L1131.5 617.2 L1131.3 617.2 L1131.8 620.5 L1132.0 621.3 L1132.5 621.0 L1132.5 624.0 L1133.1 625.0 L1133.4 627.9 L1133.4 627.7 L1133.8 629.8 L1133.9 627.3 L1134.5 625.5 L1134.2 624.5 L1134.9 622.5 L1134.9 621.3 L1135.4 620.3 L1135.3 620.4 L1135.9 617.8 L1136.1 615.7 L1136.0 614.9 L1136.3 613.1 L1136.5 611.4 L1137.4 610.0 L1137.6 608.3 L1138.2 606.5 L1138.2 605.8 L1138.8 603.7 L1139.9 602.2 L1140.3 601.9 L1141.3 600.6 L1141.7 597.2 L1142.0 596.8 L1141.9 595.3 L1142.6 594.1 L1142.6 593.3 L1143.1 590.1 L1143.1 590.3 L1143.9 589.0 L1143.8 586.3 L1145.2 587.2 L1146.3 589.4 L1146.3 589.4 L1146.7 591.3 L1146.7 592.3 L1146.9 594.8 L1147.2 595.2 L1147.1 599.2 L1146.9 600.1 L1147.3 601.9 L1147.6 602.9 L1147.7 603.2 L1147.6 604.8 L1147.7 605.2 L1148.1 609.3 L1148.0 611.0 L1148.2 612.5 L1148.4 611.6 L1148.4 615.1 L1148.4 616.1 L1148.7 616.6 L1148.9 618.8 L1148.7 619.1 L1149.3 621.3 L1149.1 624.1 L1149.5 624.1 L1149.6 626.0 L1150.1 628.3 L1150.1 628.6 L1150.4 631.7 L1150.6 633.3 L1150.9 633.5 L1150.6 637.0 L1151.1 638.7 L1151.3 638.4 L1151.9 639.1 L1152.0 642.4 L1152.7 643.2 L1152.9 646.2 L1153.3 647.0 L1153.8 647.3 L1154.1 645.1 L1154.4 644.9 L1154.6 642.0 L1154.9 640.2 L1155.4 639.3 L1155.7 637.3 L1156.3 636.5 L1156.3 635.1 L1156.7 638.1 L1157.1 637.5 L1157.2 638.9 L1157.9 640.3 L1158.1 644.6 L1158.4 644.4 L1158.8 646.2 L1159.2 648.5 L1159.9 648.5 L1159.9 651.3 L1160.6 653.1 L1160.9 651.8 L1161.7 650.0 L1161.8 647.9 L1162.2 646.1 L1162.6 645.4 L1163.1 647.5 L1163.0 647.3 L1163.5 651.0 L1163.6 651.8 L1164.0 652.6 L1163.9 654.9 L1164.0 655.3 L1164.6 659.1 L1164.5 658.1 L1164.9 661.0 L1165.1 662.5 L1165.2 662.3 L1165.7 659.7 L1165.7 658.5 L1165.8 656.0 L1166.2 655.3 L1166.2 652.7 L1166.4 651.6 L1166.7 651.6 L1166.7 648.1 L1166.8 648.2 L1166.9 646.3 L1167.2 643.3 L1167.6 643.0 L1168.7 640.3 L1170.1 639.6 L1170.6 638.0 L1171.1 638.0 L1171.2 637.2 L1171.3 635.7 L1171.9 634.3 L1172.4 630.6 L1172.6 630.6 L1172.9 628.5 L1173.8 628.8 L1174.4 626.7 L1174.6 624.6 L1175.2 625.1 L1176.4 626.2 L1177.1 629.0 L1177.3 626.3 L1177.9 625.1 L1178.5 625.1 L1178.8 622.8 L1178.8 621.5 L1179.1 619.6 L1179.6 619.4 L1180.2 618.8 L1180.3 614.8 L1180.8 613.1 L1181.4 612.9 L1181.7 612.7 L1181.8 616.0 L1182.6 616.7 L1182.8 618.6 L1183.2 620.9 L1183.5 620.7 L1183.9 623.2 L1184.5 625.3 L1184.4 626.0 L1184.9 626.5 L1185.0 629.6 L1185.8 631.6 L1185.7 632.3 L1186.4 634.3 L1187.1 632.0 L1187.7 630.8 L1188.1 628.8 L1188.6 631.7 L1188.6 633.1 L1188.6 632.8 L1189.1 634.1 L1189.2 637.2 L1189.5 638.7 L1189.3 639.8 L1189.4 641.5 L1189.6 642.5 L1189.9 644.7 L1190.1 644.9 L1190.1 647.9 L1190.8 649.4 L1191.0 648.6 L1191.4 651.4 L1191.3 652.9 L1191.4 655.5 L1191.6 656.5 L1191.9 656.5 L1192.3 659.8 L1192.6 660.4 L1193.3 658.2 L1193.4 658.1 L1194.3 656.4 L1194.6 654.8 L1194.7 654.1 L1195.2 651.8 L1195.4 652.1 L1195.3 649.0 L1195.6 648.7 L1195.8 646.2 L1196.0 644.5 L1195.7 643.3 L1195.9 642.6 L1196.0 640.9 L1196.4 639.5 L1196.7 640.5 L1196.7 640.8 L1196.6 643.1 L1196.6 645.9 L1196.8 646.4 L1197.4 649.1 L1197.2 648.1 L1197.5 651.0 L1197.4 653.3 L1197.4 655.4 L1198.0 654.5 L1197.7 656.0 L1197.9 658.7 L1198.1 659.8 L1198.6 663.0 L1199.0 664.2 L1199.5 666.1 L1200.1 666.9 L1200.6 668.3 L1200.6 670.4 L1200.9 671.2 L1200.6 672.5 L1201.2 675.5 L1201.3 676.4 L1201.3 676.6 L1201.8 679.9 L1201.4 681.8 L1201.8 682.6 L1201.8 683.3 L1202.1 684.8 L1202.3 686.7 L1202.3 687.7 L1202.6 690.1 L1202.4 691.8 L1202.6 694.3 L1203.1 696.1 L1203.0 695.2 L1203.0 699.3 L1203.1 699.6 L1203.1 699.6 L1203.3 701.5 L1203.6 704.6 L1203.8 707.1 L1204.0 707.0 L1203.9 709.1 L1205.6 709.0 L1205.9 708.5 L1205.9 705.5 L1206.2 703.8 L1206.4 702.1 L1205.9 700.1 L1206.1 700.0 L1206.2 698.4 L1206.6 697.9 L1206.8 695.9 L1206.8 695.3 L1206.5 692.9 L1206.9 689.4 L1206.9 690.7 L1206.8 688.0 L1207.5 686.0 L1207.5 685.0 L1207.3 681.8 L1207.7 680.7 L1207.6 679.7 L1207.8 682.9 L1208.2 684.2 L1208.8 684.0 L1208.9 685.6 L1209.3 686.0 L1209.1 690.2 L1209.6 690.5 L1209.6 691.1 L1210.0 693.0 L1210.3 696.3 L1210.2 698.0 L1210.0 698.6 L1210.4 700.4 L1210.7 700.9 L1210.4 702.1 L1210.5 703.4 L1211.0 706.3 L1210.9 706.6 L1211.1 709.4 L1211.2 710.5 L1211.0 710.9 L1211.4 713.9 L1212.8 712.6 L1213.9 712.4 L1214.0 712.2 L1214.5 708.6 L1214.7 708.0 L1214.9 707.7 L1215.6 705.9 L1215.7 703.9 L1216.3 702.5 L1216.3 701.4 L1216.7 698.3 L1217.1 697.6 L1217.7 697.1 L1218.2 695.0 L1218.8 693.8 L1218.8 691.5 L1219.3 690.2 L1220.0 690.6 L1220.0 687.7 L1220.7 685.9 L1221.4 686.6 L1221.5 689.4 L1221.9 690.6 L1222.7 691.5 L1222.6 689.5 L1223.2 689.2 L1223.0 687.0 L1223.4 686.0 L1223.3 684.5 L1223.5 683.8 L1223.9 680.3 L1223.9 678.7 L1224.6 678.7 L1224.3 676.2 L1224.7 675.4 L1224.9 672.9 L1225.1 672.9 L1225.2 669.9 L1226.0 669.6 L1225.7 669.3 L1226.2 666.6 L1226.4 664.8 L1226.5 664.1 L1226.5 663.0 L1226.9 661.8 L1226.6 658.9 L1226.7 657.4 L1227.2 656.5 L1227.4 654.6 L1227.4 651.4 L1227.1 652.2 L1227.2 649.2 L1227.7 648.4 L1227.8 646.2 L1227.9 644.7 L1228.1 642.9 L1227.7 641.8 L1228.2 639.2 L1228.2 639.3 L1229.2 638.7 L1230.7 638.1 L1231.4 639.5 L1232.7 640.0 L1232.9 639.2 L1233.6 635.8 L1234.5 636.8 L1234.9 633.6 L1235.2 633.0 L1235.5 632.2 L1235.9 630.9 L1236.2 629.3 L1236.4 625.5 L1236.6 624.8 L1237.1 622.9 L1237.2 622.0 L1237.7 619.9 L1238.7 618.9 L1239.7 617.5 L1239.7 619.7 L1240.0 620.9 L1240.6 623.3 L1240.7 624.9 L1241.2 624.9 L1241.1 627.3 L1241.4 628.6 L1242.1 627.1 L1242.4 626.8 L1242.8 625.1 L1243.3 622.7 L1243.9 621.1 L1245.0 619.7 L1245.7 619.2 L1245.7 619.5 L1246.0 622.7 L1246.2 623.9 L1246.1 625.5 L1246.3 625.1 L1246.8 626.5 L1246.7 629.5 L1246.9 632.3 L1246.8 631.6 L1247.2 632.7 L1247.1 636.1 L1247.1 636.5 L1247.5 638.4 L1247.8 641.1 L1247.7 641.8 L1248.9 641.2 L1250.2 641.2 L1251.3 642.2 L1252.7 639.7 L1253.3 638.1 L1253.3 638.3 L1254.0 636.9 L1253.9 634.2 L1254.4 633.8 L1255.1 630.4 L1255.2 630.1 L1255.5 628.3 L1255.4 626.4 L1255.9 625.3 L1256.1 622.7 L1256.3 623.4 L1256.8 621.7 L1256.7 618.7 L1257.3 618.7 L1257.3 616.0 L1257.7 615.6 L1257.8 614.8 L1258.3 612.3 L1258.3 610.0 L1258.9 608.5 L1259.1 607.8 L1259.2 604.8 L1259.6 603.9 L1260.2 602.5 L1260.2 600.9 L1260.5 601.3 L1261.0 599.4 L1261.6 597.1 L1262.4 594.0 L1262.7 594.2 L1263.5 591.9 L1264.2 591.3 L1264.5 588.8 L1265.2 588.5 L1266.9 589.2 L1268.2 589.3 L1268.8 590.2 L1269.2 592.3 L1270.2 591.9 L1270.7 593.8 L1271.0 596.6 L1271.5 596.2 L1272.0 596.1 L1272.7 598.4 L1273.9 597.8 L1275.2 597.6 L1276.6 598.2 L1277.7 600.1 L1277.7 603.0 L1278.2 603.1 L1278.6 604.2 L1278.9 605.2 L1278.8 607.1 L1279.1 609.3 L1279.1 609.8 L1279.5 613.3 L1279.9 612.3 L1279.9 615.0 L1280.2 616.2 L1281.0 616.2 L1282.2 613.6 L1282.7 612.5 L1283.1 610.8 L1284.1 610.0 L1284.5 607.8 L1285.2 606.0 L1285.9 608.5 L1286.5 609.9 L1287.2 610.4 L1287.2 610.2 L1287.7 614.5 L1287.8 615.2 L1287.7 616.0 L1288.2 616.6 L1288.1 619.7 L1288.2 621.1 L1288.4 622.5 L1288.7 623.7 L1289.0 625.2 L1289.3 625.5 L1289.5 628.3 L1290.2 628.9 L1290.5 631.0 L1290.8 633.1 L1291.1 632.9 L1291.5 635.5 L1291.9 633.8 L1292.1 631.6 L1292.6 631.9 L1292.5 629.3 L1292.8 627.7 L1293.6 627.1 L1293.5 624.9 L1294.0 623.0 L1295.4 620.4 L1296.5 620.2 L1297.0 617.1 L1297.3 616.8 L1297.4 616.0 L1297.6 615.0 L1298.0 613.5 L1298.3 609.3 L1298.4 607.9 L1299.0 607.8 L1299.3 605.0 L1299.9 604.0 L1300.7 604.4 L1301.3 602.7 L1301.5 600.0 L1302.6 600.4 L1304.0 599.4 L1304.6 598.3 L1304.7 595.0 L1305.5 595.6 L1306.2 593.2 L1306.5 590.9 L1307.7 592.6 L1309.0 592.9 L1309.3 594.0 L1309.9 597.0 L1310.7 597.8 L1311.1 597.9 L1311.5 600.0 L1312.0 597.7 L1312.7 598.3 L1313.4 595.4 L1314.0 593.3 L1315.4 595.9 L1316.5 596.8 L1317.0 594.7 L1317.9 593.4 L1318.3 593.1 L1319.0 591.4 L1320.1 591.6 L1320.7 593.8 L1321.5 595.4 L1322.9 592.9 L1324.0 592.4 L1325.0 594.8 L1326.5 594.8 L1326.8 596.9 L1327.1 597.6 L1327.2 598.5 L1327.7 599.3 L1328.0 601.5 L1328.1 603.8 L1328.3 605.3 L1329.1 605.6 L1329.7 607.6 L1330.3 610.7 L1330.8 611.7 L1331.1 609.7 L1331.0 609.7 L1331.4 605.6 L1331.5 605.3 L1332.1 602.9 L1331.9 601.9 L1332.4 599.7 L1332.5 598.2 L1332.8 597.7 L1333.4 596.2 L1333.7 596.1 L1334.5 595.1 L1335.3 592.0 L1336.0 592.2 L1336.4 590.2 L1337.3 589.2 L1337.7 586.7 L1337.8 584.8 L1338.0 584.5 L1338.0 582.4 L1338.6 581.2 L1338.8 578.2 L1339.0 577.9 L1339.5 578.0 L1339.2 581.8 L1339.4 581.5 L1339.7 583.1 L1340.0 585.4 L1340.3 586.4 L1340.7 588.2 L1340.8 590.4 L1340.8 590.5 L1341.1 591.7 L1341.6 593.5 L1342.0 597.1 L1341.6 596.9 L1342.1 600.0 L1342.3 602.1 L1342.3 601.8 L1342.8 604.4 L1343.1 602.5 L1343.7 600.8 L1343.8 600.6 L1344.2 597.2 L1344.5 597.9 L1345.0 595.8 L1345.3 593.8 L1345.8 595.3 L1346.8 596.5 L1347.3 597.1 L1347.8 598.7 L1347.6 602.0 L1348.2 602.4 L1348.4 604.5 L1348.6 603.8 L1349.0 606.6 L1349.1 605.5 L1349.5 603.7 L1349.3 602.3 L1349.7 600.1 L1349.9 599.0 L1350.3 596.1 L1350.6 595.0 L1350.6 593.5 L1350.8 593.0 L1351.2 589.9 L1351.5 588.2 L1351.6 586.6 L1351.5 586.1 L1351.9 584.6 L1351.9 583.2 L1352.2 582.0 L1352.5 581.8 L1352.8 578.8 L1354.3 579.3 L1355.3 581.1 L1356.7 580.5 L1357.8 578.7 L1358.3 578.4 L1358.8 575.2 L1359.9 574.9 L1360.3 573.5 L1360.7 575.2 L1360.6 576.2 L1361.0 578.4 L1361.5 581.2 L1361.6 580.6 L1361.5 582.6 L1362.3 584.2 L1362.4 585.3 L1362.3 588.0 L1362.8 589.4 L1363.9 588.3 L1365.3 590.4 L1365.8 590.2 L1366.5 592.0 L1366.9 593.2 L1367.5 595.3 L1368.3 597.1 L1368.6 598.3 L1369.1 599.6 L1369.1 602.1 L1369.8 603.1 L1370.0 604.1 L1370.5 605.8 L1370.6 608.3 L1370.8 610.6 L1372.2 608.3 L1374.1 609.1 L1374.5 607.6 L1374.7 605.1 L1375.0 603.2 L1375.4 602.0 L1375.5 600.4 L1375.7 599.9 L1376.3 598.8 L1376.6 596.0 L1377.8 594.6 L1379.1 595.1 L1379.4 597.2 L1380.0 597.7 L1380.4 598.7 L1380.8 602.0 L1380.7 603.6 L1381.3 604.6 L1381.6 604.8 L1382.2 605.1 L1382.6 603.0 L1383.3 599.3 L1383.4 598.1 L1384.1 597.7 L1385.3 597.9 L1386.6 600.4 L1387.0 600.5 L1387.2 602.1 L1387.6 605.3 L1387.6 605.0 L1388.1 609.3 L1388.4 609.3 L1388.9 611.6 L1389.1 612.8 L1389.6 613.8 L1389.9 615.7 L1390.9 618.5 L1391.4 619.5 L1391.6 620.1 L1392.0 622.8 L1392.9 624.2 L1393.3 625.7 L1393.9 627.6 L1394.2 627.4 L1394.2 629.4 L1394.8 630.6 L1395.2 633.5 L1395.3 634.1 L1395.5 631.4 L1395.8 631.2 L1396.1 629.0 L1396.8 627.0 L1397.2 625.8 L1397.3 624.9 L1397.5 624.7 L1397.9 621.5 L1398.2 619.3 L1398.2 618.9 L1398.7 618.9 L1399.1 615.8 L1399.6 619.0 L1400.1 618.1 L1401.1 618.9 L1401.6 621.5 L1401.7 622.9 L1402.4 623.8 L1402.7 625.6 L1402.5 628.7 L1402.7 630.1 L1403.4 631.2 L1403.6 632.7 L1403.6 634.6 L1404.1 635.2 L1404.7 635.7 L1405.5 636.7 L1406.1 639.1 L1406.6 640.3 L1407.4 642.1 L1407.8 644.4 L1408.3 644.9 L1408.6 645.0 L1408.8 641.1 L1409.5 641.5 L1409.6 639.9 L1409.9 639.3 L1410.0 636.4 L1410.4 635.5 L1410.2 633.0 L1410.7 632.4 L1410.8 629.7 L1410.5 630.1 L1410.9 626.2 L1411.2 625.3 L1411.0 625.7 L1411.3 623.5 L1411.6 620.1 L1411.1 618.5 L1411.2 617.8 L1411.6 616.4 L1413.1 617.4 L1414.1 618.8 L1415.9 618.0 L1416.1 616.9 L1416.1 613.7 L1416.4 612.9 L1416.6 611.8 L1416.9 609.3 L1416.8 609.7 L1416.9 606.2 L1417.4 604.6 L1417.8 602.3 L1418.5 603.1 L1419.1 602.0 L1419.4 599.4 L1419.9 597.0 L1420.7 596.4 L1421.6 596.3 L1422.9 595.2 L1423.7 593.5 L1424.3 592.3 L1425.4 591.6 L1426.7 593.5 L1427.9 593.4 L1429.3 592.9 L1430.4 591.9 L1430.3 590.6 L1431.0 589.4 L1431.4 586.0 L1431.6 586.1 L1431.7 582.8 L1431.7 581.6 L1432.2 581.2 L1432.4 578.6 L1432.9 580.4 L1433.1 581.9 L1433.4 583.3 L1433.3 583.1 L1433.8 586.1 L1433.9 588.8 L1434.1 588.8 L1434.6 587.8 L1435.2 586.5 L1435.3 583.0 L1435.5 584.1 L1435.9 582.4 L1436.6 580.3 L1437.3 579.7 L1438.1 577.2 L1439.1 576.6 L1439.7 577.9 L1440.2 578.8 L1440.8 582.2 L1441.0 583.7 L1441.6 583.9 L1442.8 582.2 L1444.1 581.7 L1445.0 581.6 L1446.1 584.7 L1446.6 584.5 L1446.9 586.0 L1446.9 589.6 L1447.3 590.9 L1447.9 591.7 L1447.8 591.8 L1447.9 593.7 L1448.4 596.1 L1448.8 595.5 L1449.2 592.3 L1449.2 592.0 L1449.9 591.5 L1450.3 588.2 L1450.4 588.0 L1450.9 585.5 L1452.3 586.2 L1452.9 583.4 L1454.3 583.4 L1455.4 581.5 L1456.9 583.0 L1457.9 582.4 L1458.8 582.3 L1459.3 579.5 L1460.0 579.4 L1460.4 577.7 L1460.6 578.4 L1460.8 580.6 L1461.6 583.0 L1461.9 582.7 L1461.8 585.4 L1462.4 586.7 L1462.5 585.5 L1462.8 581.9 L1463.1 582.3 L1463.2 580.9 L1463.6 577.1 L1463.7 577.8 L1464.2 574.6 L1464.3 574.4 L1464.7 572.7 L1465.5 569.9 L1465.8 570.4 L1466.0 567.6 L1466.7 566.1 L1468.1 564.3 L1469.2 564.1 L1470.4 564.1 L1471.7 562.8 L1472.1 560.0 L1472.5 558.9 L1473.0 558.8 L1473.5 556.0 L1474.2 555.5 L1475.0 554.2 L1476.1 552.2 L1476.7 551.8 L1477.5 552.4 L1478.2 554.9 L1479.2 554.8 L1480.0 552.6 L1480.6 553.4 L1481.7 551.2 L1482.9 554.0 L1484.2 553.7 L1485.2 553.6 L1485.6 550.9 L1486.7 550.2 L1487.6 552.3 L1487.8 553.7 L1488.4 554.8 L1489.2 556.3 L1490.1 555.0 L1490.7 555.0 L1491.3 552.5 L1491.7 550.9 L1492.0 554.1 L1492.0 555.5 L1492.0 557.4 L1492.7 558.5 L1492.9 558.6 L1493.0 559.6 L1493.0 561.9 L1493.4 562.6 L1493.4 565.4 L1494.0 565.3 L1493.9 567.1 L1494.3 569.1 L1494.8 572.0 L1494.8 572.6 L1494.9 572.5 L1495.4 575.1 L1495.8 573.7 L1496.1 573.3 L1496.5 569.8 L1497.1 567.7 L1497.2 567.3 L1497.4 565.2 L1497.9 563.6 L1499.2 562.6 L1500.4 561.9 L1501.5 562.1 L1502.9 562.0 L1503.2 559.9 L1503.9 560.2 L1504.2 557.0 L1504.4 556.0 L1504.5 554.6 L1505.2 551.6 L1505.4 551.5 L1506.2 549.5 L1506.3 549.3 L1507.0 545.5 L1507.3 545.8 L1507.9 543.3 L1508.2 542.3 L1509.0 541.5 L1509.4 538.6 L1509.8 537.0 L1510.5 535.9 L1511.4 536.0 L1512.5 534.1 L1513.3 534.6 L1513.8 536.6 L1514.4 537.2 L1515.0 538.4 L1515.7 541.8 L1516.3 542.0 L1516.7 542.3 L1517.5 544.7 L1517.8 544.5 L1518.9 541.8 L1519.5 541.2 L1520.0 538.6 L1521.3 538.0 L1522.5 538.6 L1522.9 541.0 L1523.5 542.6 L1524.3 544.2 L1524.8 544.4 L1525.0 545.7 L1525.9 546.2 L1527.5 543.9 L1528.1 545.0 L1528.3 546.3 L1529.0 549.2 L1529.5 550.6 L1530.0 550.8 L1531.1 551.5 L1532.6 550.1 L1533.3 547.3 L1534.5 548.1 L1535.1 546.5 L1535.6 544.6 L1535.5 543.6 L1536.1 541.6 L1536.1 540.6 L1536.5 537.7 L1536.8 535.5 L1537.1 535.4 L1537.4 533.7 L1537.8 532.6 L1538.2 531.1 L1538.9 528.3 L1540.6 527.3 L1540.9 529.1 L1541.7 531.7 L1542.0 531.4 L1542.3 534.2 L1542.6 534.8 L1543.2 537.9 L1543.1 536.5 L1543.3 538.8 L1544.0 540.6 L1544.3 540.8 L1544.1 543.1 L1544.6 545.6 L1544.7 546.0 L1545.1 547.2 L1545.2 548.8 L1545.7 550.8 L1545.8 553.0 L1546.3 554.8 L1546.4 556.6 L1546.8 554.3 L1546.8 554.2 L1546.9 551.7 L1547.4 549.1 L1547.1 549.0 L1547.8 548.4 L1547.9 544.2 L1548.0 543.3 L1548.1 543.0 L1548.6 540.9 L1549.0 540.6 L1549.6 539.2 L1550.2 538.2 L1550.4 538.1 L1550.2 539.2 L1550.2 540.9 L1550.3 543.7 L1550.3 546.0 L1550.9 547.0 L1550.6 547.0 L1550.8 550.4 L1550.8 552.4 L1551.3 552.3 L1551.3 553.6 L1551.0 556.8 L1551.5 557.2 L1551.5 557.5 L1551.4 560.4 L1551.6 562.5 L1552.0 562.1 L1552.1 563.7 L1552.0 567.2 L1552.2 568.7 L1552.2 570.5 L1552.7 571.9 L1553.0 569.5 L1553.2 568.3 L1553.2 566.3 L1553.4 564.0 L1553.8 562.7 L1553.7 563.0 L1554.2 562.4 L1553.9 560.9 L1554.4 558.7 L1554.2 556.9 L1554.7 555.6 L1554.9 553.3 L1555.0 552.9 L1555.6 549.0 L1555.3 548.2 L1556.0 546.2 L1555.8 546.4 L1556.4 543.1 L1556.4 542.8 L1556.4 541.3 L1557.1 539.3 L1556.9 536.5 L1557.5 535.1 L1557.7 533.7 L1557.7 534.4 L1557.9 530.5 L1558.0 530.3 L1558.2 528.4 L1559.3 527.6 L1560.2 525.9 L1560.6 526.2 L1561.0 523.1 L1561.8 522.4 L1562.2 521.4 L1563.4 523.1 L1564.7 522.6 L1564.8 525.6 L1565.2 524.2 L1565.4 526.7 L1565.6 528.6 L1566.2 531.6 L1566.7 533.1 L1567.0 534.2 L1567.2 534.8 L1567.6 537.3 L1568.5 538.4 L1568.8 540.6 L1569.7 541.1 L1570.2 540.9 L1570.2 539.9 L1570.5 536.2 L1571.2 536.3 L1571.6 534.6 L1571.9 532.8 L1572.2 531.8 L1572.8 530.3 L1573.2 528.6 L1573.7 527.6 L1574.1 524.2 L1574.7 523.7 L1575.3 522.0 L1575.9 520.3 L1576.5 518.9 L1577.2 518.1 L1577.2 514.9 L1577.7 515.3 L1578.1 513.1 L1578.1 511.4 L1578.8 508.9 L1578.7 510.2 L1579.0 507.3 L1579.6 504.7 L1579.7 504.9 L1580.2 505.1 L1581.1 507.9 L1581.5 508.6 L1582.2 509.7 L1583.7 512.2 L1584.7 513.0 L1585.6 512.6 L1586.5 516.5 L1587.2 516.3 L1588.2 514.6 L1589.7 515.3 L1590.2 515.2 L1590.4 518.4 L1591.0 520.5 L1590.9 521.1 L1591.4 522.5 L1592.1 522.9 L1592.2 525.3 L1592.9 525.2 L1593.9 527.1 L1594.7 528.6 L1595.6 529.9 L1596.3 530.4 L1597.2 532.1 L1597.7 534.4 L1598.3 531.8 L1598.6 529.7 L1599.3 529.7 L1599.4 527.3 L1600.2 525.9 L1600.5 528.1 L1601.3 528.9 L1601.7 532.2 L1602.2 532.3 L1602.3 534.4 L1602.5 536.6 L1602.9 536.7 L1603.0 540.2 L1603.2 539.7 L1603.6 541.4 L1604.0 543.7 L1604.5 546.3 L1605.1 547.1 L1605.7 549.2 L1606.9 549.4 L1608.2 548.1 L1609.6 546.0 L1610.5 546.0 L1611.5 544.9 L1611.6 543.0 L1612.1 543.4 L1612.5 541.4 L1612.7 539.4 L1613.2 537.0 L1613.6 537.0 L1614.0 534.5 L1614.5 534.5 L1615.1 531.3 L1616.0 530.5 L1616.5 530.1 L1617.6 529.6 L1619.0 529.8 L1619.2 530.9 L1619.7 533.9 L1620.1 535.0 L1619.9 536.4 L1620.2 536.0 L1620.7 538.5 L1621.2 540.5 L1621.2 542.2 L1621.8 542.7 L1621.6 545.8 L1622.3 545.3 L1622.4 547.5 L1622.6 548.6 L1622.7 551.2 L1622.8 554.1 L1622.9 553.4 L1623.5 557.1 L1623.5 558.2 L1623.5 558.7 L1624.1 559.8 L1624.0 562.1 L1624.7 561.7 L1625.6 559.2 L1626.5 559.4 L1627.5 559.3 L1629.0 561.5 L1630.2 560.6 L1631.5 558.5 L1631.5 561.5 L1631.8 561.0 L1632.1 563.6 L1632.5 565.3 L1632.6 567.9 L1633.0 566.9 L1632.9 568.4 L1633.2 570.9 L1633.8 570.2 L1633.9 567.2 L1634.5 567.9 L1634.9 564.2 L1635.2 564.2 L1635.2 562.1 L1635.5 561.3 L1635.6 558.3 L1635.8 557.6 L1636.3 556.0 L1636.4 555.0 L1636.4 554.2 L1637.1 551.3 L1637.3 551.4 L1637.2 549.2 L1637.9 547.4 L1638.0 546.1 L1638.5 543.6 L1639.1 544.0 L1639.7 541.2 L1640.8 540.8 L1642.2 540.3 L1642.9 542.5 L1643.1 544.2 L1643.9 543.5 L1644.2 546.7 L1644.7 547.4 L1645.3 545.0 L1645.6 544.3 L1645.6 542.4 L1646.1 541.4 L1646.2 540.9 L1646.6 538.8 L1647.1 537.7 L1647.2 535.1 L1648.4 533.4 L1649.7 533.0 L1649.9 532.0 L1650.1 528.5 L1650.2 529.7 L1650.8 527.8 L1651.0 525.6 L1651.3 523.7 L1651.5 522.1 L1653.3 521.8 L1653.5 521.4 L1654.3 524.3 L1654.9 526.0 L1655.3 526.8 L1656.0 523.7 L1657.3 523.5" fill="none" stroke="#000" stroke-width="2.9" stroke-linejoin="miter" stroke-miterlimit="2.5" stroke-linecap="butt"/>
<text y="113.5" font-size="50.3" fill="#0000ff" lengthAdjust="spacingAndGlyphs"><tspan x="402.3" textLength="64.1">US</tspan> <tspan x="479.1" textLength="139.6">Dollar</tspan> <tspan x="630.6" textLength="128.8">Index</tspan> <tspan x="775.2" textLength="119.0">$DXY</tspan></text>
<text y="810.5" font-size="50.3" fill="#000" lengthAdjust="spacingAndGlyphs"><tspan x="1034.3" textLength="57.8">All</tspan> <tspan x="1108.2" textLength="136.3">World</tspan> <tspan x="1257.9" textLength="133.1">Ex-US</tspan> <tspan x="1405.3" textLength="122.0">$VEU</tspan></text>
<text x="682" y="181" font-size="18" fill="#008000" textLength="97" lengthAdjust="spacingAndGlyphs">Covid Spike</text>
<text x="184" y="790.6" font-size="25.4" font-weight="bold" fill="#14284b" stroke="#14284b" stroke-width="0.7" textLength="153.3" lengthAdjust="spacing">ALL STAR</text>
<text x="196" y="816.3" font-size="25.4" font-weight="bold" fill="#14284b" stroke="#14284b" stroke-width="0.7" textLength="131" lengthAdjust="spacing">CHARTS</text>
<g fill="#e4173e">
<path d="M280.6 755.5 L285.0 757.1 L288.3 753.7 L288.2 758.4 L292.4 760.4 L287.9 761.8 L287.3 766.4 L284.6 762.6 L280.0 763.4 L282.8 759.7Z"/>
<path d="M296.8 742.3 L300.4 745.4 L304.7 743.5 L302.8 747.8 L305.9 751.3 L301.2 750.9 L298.9 754.9 L297.8 750.3 L293.3 749.3 L297.3 747.0Z"/>
<path d="M317.2 735.9 L319.4 740.3 L324.2 740.2 L320.7 743.6 L322.3 748.2 L318.0 745.9 L314.1 748.8 L314.9 744.0 L310.9 741.2 L315.8 740.5Z"/>
<path d="M338.9 739.6 L339.1 744.3 L343.4 746.1 L339.1 747.7 L338.7 752.4 L335.8 748.7 L331.2 749.8 L333.8 745.9 L331.3 741.9 L335.8 743.2Z"/>
<path d="M357.1 750.4 L355.5 754.8 L358.8 758.1 L354.2 758.0 L352.0 762.1 L350.7 757.6 L346.1 756.9 L350.0 754.3 L349.3 749.6 L353.0 752.5Z"/>
<path d="M370.2 766.7 L367.1 770.2 L368.9 774.5 L364.6 772.6 L361.0 775.6 L361.6 770.9 L357.6 768.5 L362.1 767.6 L363.2 763.0 L365.6 767.1Z"/>
<path d="M376.6 787.1 L372.2 789.2 L372.2 794.0 L368.8 790.5 L364.2 792.0 L366.5 787.7 L363.7 783.8 L368.5 784.7 L371.3 780.7 L371.9 785.6Z"/>
<path d="M374.3 805.6 L369.6 806.1 L368.1 810.5 L366.2 806.2 L361.5 806.1 L365.0 803.0 L363.7 798.5 L367.7 800.8 L371.6 798.2 L370.6 802.8Z"/>
<path d="M366.1 816.5 L363.5 816.1 L362.0 818.3 L361.6 815.7 L359.0 815.0 L361.4 813.7 L361.3 811.1 L363.2 813.0 L365.7 812.0 L364.5 814.4Z"/>
<path d="M360.2 824.6 L357.8 823.7 L356.0 825.5 L356.0 823.0 L353.8 821.8 L356.2 821.1 L356.6 818.6 L358.0 820.7 L360.6 820.3 L359.0 822.3Z"/>
<path d="M352.7 831.6 L350.7 830.4 L348.7 831.7 L349.3 829.4 L347.4 828.0 L349.8 827.8 L350.6 825.6 L351.5 827.7 L353.8 827.8 L352.0 829.3Z"/>
<path d="M344.4 836.7 L342.7 835.1 L340.5 836.0 L341.5 833.9 L340.0 832.1 L342.3 832.4 L343.5 830.3 L344.0 832.6 L346.3 833.2 L344.2 834.3Z"/>
<path d="M334.8 840.0 L333.5 838.3 L331.4 838.7 L332.7 837.0 L331.6 835.1 L333.7 835.8 L335.1 834.2 L335.1 836.3 L337.1 837.2 L335.0 837.9Z"/>
<path d="M324.9 841.7 L324.0 839.8 L321.8 839.8 L323.4 838.3 L322.7 836.3 L324.6 837.3 L326.3 836.1 L325.9 838.2 L327.6 839.4 L325.5 839.7Z"/>
<path d="M315.1 841.3 L314.6 839.3 L312.6 838.9 L314.3 837.9 L314.1 835.8 L315.6 837.1 L317.5 836.3 L316.7 838.2 L318.1 839.6 L316.1 839.5Z"/>
<path d="M305.1 839.0 L305.0 837.0 L303.1 836.2 L305.0 835.5 L305.1 833.4 L306.4 835.0 L308.4 834.5 L307.3 836.2 L308.3 838.0 L306.4 837.4Z"/>
<path d="M297.5 835.6 L297.7 834.1 L296.4 833.3 L297.9 833.0 L298.2 831.5 L299.0 832.8 L300.5 832.7 L299.5 833.8 L300.1 835.2 L298.7 834.6Z"/>
<path d="M292.3 832.1 L292.6 830.8 L291.6 830.0 L292.9 829.9 L293.4 828.6 L293.9 829.9 L295.2 829.9 L294.2 830.8 L294.6 832.1 L293.4 831.4Z"/>
<path d="M287.7 828.8 L288.1 827.7 L287.3 826.9 L288.5 827.0 L289.0 826.0 L289.3 827.0 L290.4 827.2 L289.5 827.8 L289.6 829.0 L288.7 828.3Z"/>
<path d="M283.7 823.7 L284.1 822.8 L283.5 822.0 L284.5 822.1 L285.1 821.3 L285.2 822.3 L286.2 822.6 L285.3 823.0 L285.3 824.0 L284.6 823.3Z"/>
</g>
<rect x="1790" y="4" width="21.3" height="21" rx="2.6" fill="#0b3e79"/>
<path d="M1796.4 25 C1793 19 1794 11.5 1800.5 9 C1804.5 7.6 1809 8.6 1811.3 10.6 L1811.3 13.4 C1808.5 11.9 1804 11.9 1801 14.4 C1798 17.3 1798.3 22 1801.2 25 Z" fill="#fff"/>
<path d="M1799.9 17.2 C1800.6 14.6 1803 13.1 1805.2 13.5 C1803.3 14.3 1802.3 15.5 1801.9 17.2 Z" fill="#fff"/>
<text x="1813" y="21" font-size="18.4" font-weight="bold" fill="#0b3e79" textLength="56" lengthAdjust="spacingAndGlyphs">Optuma</text>
<circle cx="1871.3" cy="10.5" r="0.9" fill="#0b3e79"/>
<rect x="1843.5" y="25.5" width="28" height="25.5" fill="#fafafa" stroke="#d4d4d4" stroke-width="1"/>
<path d="M1851.4 37 V34.3 A5.7 5.7 0 0 1 1862.8 34.3 V37" fill="none" stroke="#707070" stroke-width="2.7"/>
<rect x="1848.2" y="36.4" width="17.8" height="10.4" rx="1" fill="#707070"/>
<path d="M1857.1 39.6 a1.3 1.3 0 0 1 0.9 2.3 l0.7 2.7 h-3.2 l0.7 -2.7 a1.3 1.3 0 0 1 0.9 -2.3z" fill="#fff"/>
<rect x="1859.5" y="434.5" width="12" height="29" rx="1.5" fill="#fbfbfb" stroke="#cfcfcf" stroke-width="1"/>
<path d="M1867.7 445.2 L1863.6 448.9 L1867.7 452.6" fill="none" stroke="#808080" stroke-width="2.4"/>
</svg></body></html>
